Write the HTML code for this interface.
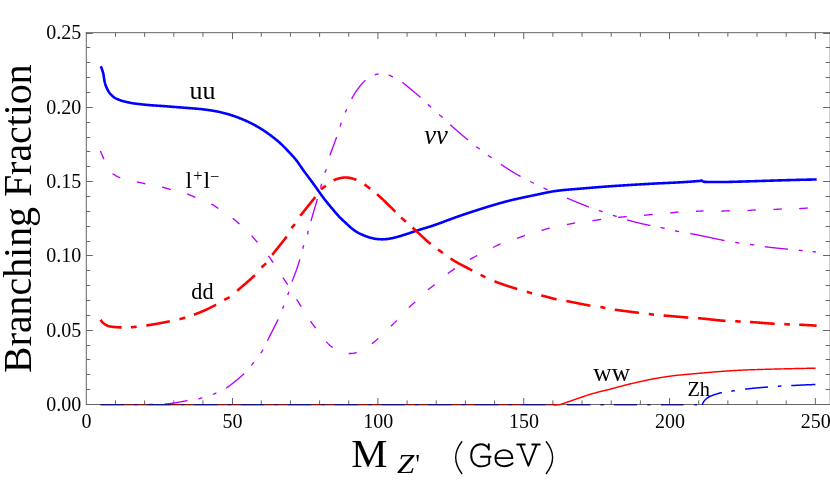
<!DOCTYPE html>
<html><head><meta charset="utf-8"><title>Branching Fraction</title>
<style>
html,body{margin:0;padding:0;background:#fff;}
body{width:830px;height:498px;overflow:hidden;font-family:"Liberation Serif",serif;}
svg{display:block;will-change:transform;}
.ser{font-family:"Liberation Serif",serif;}
.mono{font-family:"Liberation Mono",monospace;}
</style></head><body>
<svg width="830" height="498" viewBox="0 0 830 498">
<rect width="830" height="498" fill="#fff"/>
<path d="M86.3,405.0 L86.3,32.17 M85.8,32.67 L830,32.67 M830.2,32.67 L830.2,404.5 M85.8,404.5 L830,404.5" fill="none" stroke="#666666" stroke-width="1"/>
<path d="M115.46,404.5 v-4.1 M115.46,32.67 v4.1 M144.62,404.5 v-4.1 M144.62,32.67 v4.1 M173.79,404.5 v-4.1 M173.79,32.67 v4.1 M202.95,404.5 v-4.1 M202.95,32.67 v4.1 M232.50,404.5 v-6.5 M232.50,32.67 v6.5 M261.27,404.5 v-4.1 M261.27,32.67 v4.1 M290.43,404.5 v-4.1 M290.43,32.67 v4.1 M319.60,404.5 v-4.1 M319.60,32.67 v4.1 M348.76,404.5 v-4.1 M348.76,32.67 v4.1 M377.92,404.5 v-6.5 M377.92,32.67 v6.5 M407.08,404.5 v-4.1 M407.08,32.67 v4.1 M436.24,404.5 v-4.1 M436.24,32.67 v4.1 M465.41,404.5 v-4.1 M465.41,32.67 v4.1 M494.57,404.5 v-4.1 M494.57,32.67 v4.1 M523.73,404.5 v-6.5 M523.73,32.67 v6.5 M552.89,404.5 v-4.1 M552.89,32.67 v4.1 M582.05,404.5 v-4.1 M582.05,32.67 v4.1 M611.22,404.5 v-4.1 M611.22,32.67 v4.1 M640.38,404.5 v-4.1 M640.38,32.67 v4.1 M669.54,404.5 v-6.5 M669.54,32.67 v6.5 M698.70,404.5 v-4.1 M698.70,32.67 v4.1 M727.86,404.5 v-4.1 M727.86,32.67 v4.1 M757.03,404.5 v-4.1 M757.03,32.67 v4.1 M786.19,404.5 v-4.1 M786.19,32.67 v4.1 M815.35,404.5 v-6.5 M815.35,32.67 v6.5 M86.3,404.50 h6.5 M830,404.50 h-6.9 M86.3,389.50 h3.9 M830,389.50 h-4.3 M86.3,374.50 h3.9 M830,374.50 h-4.3 M86.3,359.50 h3.9 M830,359.50 h-4.3 M86.3,345.50 h3.9 M830,345.50 h-4.3 M86.3,330.50 h6.5 M830,330.50 h-6.9 M86.3,315.50 h3.9 M830,315.50 h-4.3 M86.3,300.50 h3.9 M830,300.50 h-4.3 M86.3,285.50 h3.9 M830,285.50 h-4.3 M86.3,270.50 h3.9 M830,270.50 h-4.3 M86.3,255.50 h6.5 M830,255.50 h-6.9 M86.3,241.50 h3.9 M830,241.50 h-4.3 M86.3,226.50 h3.9 M830,226.50 h-4.3 M86.3,211.50 h3.9 M830,211.50 h-4.3 M86.3,196.50 h3.9 M830,196.50 h-4.3 M86.3,181.50 h6.5 M830,181.50 h-6.9 M86.3,166.50 h3.9 M830,166.50 h-4.3 M86.3,151.50 h3.9 M830,151.50 h-4.3 M86.3,137.50 h3.9 M830,137.50 h-4.3 M86.3,122.50 h3.9 M830,122.50 h-4.3 M86.3,107.50 h6.5 M830,107.50 h-6.9 M86.3,92.50 h3.9 M830,92.50 h-4.3 M86.3,77.50 h3.9 M830,77.50 h-4.3 M86.3,62.50 h3.9 M830,62.50 h-4.3 M86.3,47.50 h3.9 M830,47.50 h-4.3 M86.3,33.50 h6.5 M830,33.50 h-6.9" fill="none" stroke="#666666" stroke-width="1"/>
<g fill="none" stroke-linejoin="round">
<path d="M100.80,66.20 L101.30,67.51 L101.80,68.89 L102.30,70.28 L102.80,71.76 L103.30,73.40 L103.80,76.63 L104.30,80.10 L104.80,82.22 L105.30,84.12 L105.80,85.78 L106.30,87.14 L106.80,88.20 L107.30,89.18 L107.80,90.13 L108.30,91.04 L108.80,91.87 L109.30,92.62 L109.80,93.27 L110.30,93.80 L110.80,94.31 L111.30,94.82 L111.80,95.32 L112.30,95.80 L112.80,96.27 L113.30,96.71 L113.80,97.12 L114.30,97.50 L114.80,97.85 L115.30,98.15 L115.80,98.40 L116.30,98.63 L116.80,98.85 L117.30,99.07 L117.80,99.29 L118.30,99.50 L118.80,99.71 L119.30,99.91 L119.80,100.11 L120.30,100.30 L120.80,100.48 L121.30,100.65 L121.80,100.81 L122.30,100.96 L122.80,101.10 L123.30,101.23 L123.80,101.35 L124.30,101.46 L124.80,101.58 L125.30,101.69 L125.80,101.81 L126.30,101.93 L126.80,102.04 L127.30,102.15 L127.80,102.27 L128.30,102.38 L128.80,102.49 L129.30,102.60 L129.80,102.70 L130.30,102.81 L130.80,102.91 L131.30,103.00 L131.80,103.09 L132.30,103.18 L132.80,103.27 L133.30,103.35 L133.80,103.43 L134.30,103.50 L134.80,103.56 L135.30,103.62 L135.80,103.68 L136.30,103.74 L136.80,103.80 L137.30,103.86 L137.80,103.92 L138.30,103.98 L138.80,104.04 L139.30,104.10 L139.80,104.15 L140.30,104.21 L140.80,104.27 L141.30,104.32 L141.80,104.38 L142.30,104.43 L142.80,104.49 L143.30,104.54 L143.80,104.60 L144.30,104.65 L144.80,104.70 L145.30,104.75 L145.80,104.80 L146.30,104.84 L146.80,104.89 L147.30,104.94 L147.80,104.98 L148.30,105.03 L148.80,105.07 L149.30,105.11 L149.80,105.15 L150.30,105.19 L150.80,105.22 L151.30,105.26 L151.80,105.29 L152.30,105.33 L152.80,105.36 L153.30,105.40 L153.80,105.43 L154.30,105.47 L154.80,105.50 L155.30,105.54 L155.80,105.57 L156.30,105.61 L156.80,105.64 L157.30,105.68 L157.80,105.71 L158.30,105.74 L158.80,105.78 L159.30,105.81 L159.80,105.85 L160.30,105.88 L160.80,105.92 L161.30,105.95 L161.80,105.99 L162.30,106.02 L162.80,106.06 L163.30,106.10 L163.80,106.13 L164.30,106.17 L164.80,106.21 L165.30,106.25 L165.80,106.28 L166.30,106.32 L166.80,106.36 L167.30,106.40 L167.80,106.44 L168.30,106.48 L168.80,106.52 L169.30,106.56 L169.80,106.60 L170.30,106.64 L170.80,106.67 L171.30,106.71 L171.80,106.75 L172.30,106.79 L172.80,106.83 L173.30,106.87 L173.80,106.91 L174.30,106.95 L174.80,106.99 L175.30,107.02 L175.80,107.06 L176.30,107.10 L176.80,107.14 L177.30,107.18 L177.80,107.22 L178.30,107.26 L178.80,107.30 L179.30,107.34 L179.80,107.38 L180.30,107.41 L180.80,107.45 L181.30,107.49 L181.80,107.53 L182.30,107.57 L182.80,107.61 L183.30,107.65 L183.80,107.69 L184.30,107.73 L184.80,107.76 L185.30,107.80 L185.80,107.84 L186.30,107.88 L186.80,107.92 L187.30,107.96 L187.80,108.00 L188.30,108.04 L188.80,108.08 L189.30,108.12 L189.80,108.15 L190.30,108.19 L190.80,108.23 L191.30,108.27 L191.80,108.31 L192.30,108.35 L192.80,108.39 L193.30,108.43 L193.80,108.47 L194.30,108.51 L194.80,108.54 L195.30,108.58 L195.80,108.62 L196.30,108.66 L196.80,108.70 L197.30,108.74 L197.80,108.78 L198.30,108.83 L198.80,108.87 L199.30,108.92 L199.80,108.97 L200.30,109.02 L200.80,109.07 L201.30,109.13 L201.80,109.18 L202.30,109.24 L202.80,109.30 L203.30,109.36 L203.80,109.42 L204.30,109.48 L204.80,109.55 L205.30,109.61 L205.80,109.68 L206.30,109.74 L206.80,109.81 L207.30,109.88 L207.80,109.95 L208.30,110.02 L208.80,110.09 L209.30,110.17 L209.80,110.24 L210.30,110.31 L210.80,110.39 L211.30,110.46 L211.80,110.54 L212.30,110.62 L212.80,110.69 L213.30,110.77 L213.80,110.86 L214.30,110.94 L214.80,111.03 L215.30,111.12 L215.80,111.22 L216.30,111.32 L216.80,111.41 L217.30,111.52 L217.80,111.62 L218.30,111.73 L218.80,111.83 L219.30,111.94 L219.80,112.06 L220.30,112.17 L220.80,112.29 L221.30,112.41 L221.80,112.53 L222.30,112.65 L222.80,112.77 L223.30,112.90 L223.80,113.02 L224.30,113.15 L224.80,113.28 L225.30,113.41 L225.80,113.55 L226.30,113.68 L226.80,113.82 L227.30,113.96 L227.80,114.10 L228.30,114.25 L228.80,114.39 L229.30,114.54 L229.80,114.70 L230.30,114.85 L230.80,115.01 L231.30,115.17 L231.80,115.33 L232.30,115.50 L232.80,115.66 L233.30,115.83 L233.80,116.00 L234.30,116.18 L234.80,116.35 L235.30,116.53 L235.80,116.71 L236.30,116.89 L236.80,117.07 L237.30,117.26 L237.80,117.45 L238.30,117.64 L238.80,117.83 L239.30,118.02 L239.80,118.22 L240.30,118.42 L240.80,118.62 L241.30,118.82 L241.80,119.03 L242.30,119.24 L242.80,119.45 L243.30,119.66 L243.80,119.88 L244.30,120.09 L244.80,120.31 L245.30,120.53 L245.80,120.75 L246.30,120.98 L246.80,121.20 L247.30,121.43 L247.80,121.66 L248.30,121.89 L248.80,122.13 L249.30,122.37 L249.80,122.61 L250.30,122.85 L250.80,123.10 L251.30,123.35 L251.80,123.61 L252.30,123.86 L252.80,124.13 L253.30,124.39 L253.80,124.66 L254.30,124.92 L254.80,125.20 L255.30,125.47 L255.80,125.75 L256.30,126.03 L256.80,126.31 L257.30,126.60 L257.80,126.88 L258.30,127.17 L258.80,127.47 L259.30,127.76 L259.80,128.06 L260.30,128.36 L260.80,128.67 L261.30,128.98 L261.80,129.29 L262.30,129.61 L262.80,129.93 L263.30,130.25 L263.80,130.58 L264.30,130.91 L264.80,131.25 L265.30,131.59 L265.80,131.93 L266.30,132.28 L266.80,132.63 L267.30,132.98 L267.80,133.33 L268.30,133.69 L268.80,134.05 L269.30,134.42 L269.80,134.78 L270.30,135.15 L270.80,135.53 L271.30,135.90 L271.80,136.28 L272.30,136.66 L272.80,137.04 L273.30,137.42 L273.80,137.81 L274.30,138.20 L274.80,138.60 L275.30,138.99 L275.80,139.40 L276.30,139.80 L276.80,140.22 L277.30,140.63 L277.80,141.05 L278.30,141.48 L278.80,141.91 L279.30,142.35 L279.80,142.80 L280.30,143.25 L280.80,143.70 L281.30,144.17 L281.80,144.64 L282.30,145.11 L282.80,145.60 L283.30,146.09 L283.80,146.59 L284.30,147.10 L284.80,147.62 L285.30,148.14 L285.80,148.66 L286.30,149.19 L286.80,149.72 L287.30,150.25 L287.80,150.79 L288.30,151.32 L288.80,151.85 L289.30,152.38 L289.80,152.91 L290.30,153.43 L290.80,153.96 L291.30,154.50 L291.80,155.03 L292.30,155.58 L292.80,156.12 L293.30,156.68 L293.80,157.25 L294.30,157.82 L294.80,158.41 L295.30,159.01 L295.80,159.62 L296.30,160.25 L296.80,160.90 L297.30,161.57 L297.80,162.26 L298.30,162.96 L298.80,163.67 L299.30,164.40 L299.80,165.13 L300.30,165.86 L300.80,166.59 L301.30,167.33 L301.80,168.06 L302.30,168.78 L302.80,169.50 L303.30,170.20 L303.80,170.89 L304.30,171.57 L304.80,172.24 L305.30,172.91 L305.80,173.58 L306.30,174.24 L306.80,174.91 L307.30,175.57 L307.80,176.24 L308.30,176.91 L308.80,177.58 L309.30,178.25 L309.80,178.92 L310.30,179.60 L310.80,180.28 L311.30,180.96 L311.80,181.64 L312.30,182.32 L312.80,183.01 L313.30,183.69 L313.80,184.38 L314.30,185.06 L314.80,185.75 L315.30,186.44 L315.80,187.12 L316.30,187.81 L316.80,188.51 L317.30,189.22 L317.80,189.93 L318.30,190.65 L318.80,191.37 L319.30,192.09 L319.80,192.81 L320.30,193.52 L320.80,194.23 L321.30,194.93 L321.80,195.63 L322.30,196.31 L322.80,196.98 L323.30,197.64 L323.80,198.30 L324.30,198.94 L324.80,199.58 L325.30,200.22 L325.80,200.85 L326.30,201.47 L326.80,202.10 L327.30,202.71 L327.80,203.33 L328.30,203.95 L328.80,204.56 L329.30,205.17 L329.80,205.78 L330.30,206.38 L330.80,206.98 L331.30,207.58 L331.80,208.18 L332.30,208.77 L332.80,209.37 L333.30,209.96 L333.80,210.55 L334.30,211.13 L334.80,211.72 L335.30,212.31 L335.80,212.89 L336.30,213.47 L336.80,214.05 L337.30,214.61 L337.80,215.17 L338.30,215.72 L338.80,216.26 L339.30,216.79 L339.80,217.30 L340.30,217.80 L340.80,218.29 L341.30,218.77 L341.80,219.26 L342.30,219.73 L342.80,220.21 L343.30,220.68 L343.80,221.15 L344.30,221.62 L344.80,222.09 L345.30,222.55 L345.80,223.02 L346.30,223.49 L346.80,223.95 L347.30,224.42 L347.80,224.88 L348.30,225.34 L348.80,225.80 L349.30,226.26 L349.80,226.72 L350.30,227.17 L350.80,227.61 L351.30,228.04 L351.80,228.45 L352.30,228.85 L352.80,229.24 L353.30,229.62 L353.80,229.99 L354.30,230.35 L354.80,230.70 L355.30,231.04 L355.80,231.36 L356.30,231.68 L356.80,231.98 L357.30,232.28 L357.80,232.56 L358.30,232.83 L358.80,233.10 L359.30,233.35 L359.80,233.60 L360.30,233.84 L360.80,234.08 L361.30,234.31 L361.80,234.54 L362.30,234.77 L362.80,234.99 L363.30,235.21 L363.80,235.42 L364.30,235.62 L364.80,235.82 L365.30,236.01 L365.80,236.20 L366.30,236.39 L366.80,236.57 L367.30,236.74 L367.80,236.91 L368.30,237.08 L368.80,237.24 L369.30,237.40 L369.80,237.55 L370.30,237.70 L370.80,237.84 L371.30,237.97 L371.80,238.10 L372.30,238.22 L372.80,238.33 L373.30,238.44 L373.80,238.54 L374.30,238.64 L374.80,238.72 L375.30,238.80 L375.80,238.88 L376.30,238.94 L376.80,239.00 L377.30,239.06 L377.80,239.11 L378.30,239.15 L378.80,239.19 L379.30,239.23 L379.80,239.26 L380.30,239.28 L380.80,239.31 L381.30,239.32 L381.80,239.33 L382.30,239.33 L382.80,239.33 L383.30,239.32 L383.80,239.30 L384.30,239.27 L384.80,239.24 L385.30,239.20 L385.80,239.15 L386.30,239.10 L386.80,239.05 L387.30,238.99 L387.80,238.92 L388.30,238.85 L388.80,238.77 L389.30,238.69 L389.80,238.60 L390.30,238.52 L390.80,238.43 L391.30,238.33 L391.80,238.24 L392.30,238.14 L392.80,238.03 L393.30,237.92 L393.80,237.81 L394.30,237.70 L394.80,237.59 L395.30,237.47 L395.80,237.35 L396.30,237.23 L396.80,237.10 L397.30,236.97 L397.80,236.82 L398.30,236.67 L398.80,236.51 L399.30,236.36 L399.80,236.20 L400.30,236.04 L400.80,235.89 L401.30,235.73 L401.80,235.57 L402.30,235.42 L402.80,235.26 L403.30,235.11 L403.80,234.95 L404.30,234.79 L404.80,234.64 L405.30,234.48 L405.80,234.32 L406.30,234.17 L406.80,234.01 L407.30,233.86 L407.80,233.70 L408.30,233.54 L408.80,233.37 L409.30,233.20 L409.80,233.03 L410.30,232.85 L410.80,232.67 L411.30,232.49 L411.80,232.31 L412.30,232.14 L412.80,231.97 L413.30,231.80 L413.80,231.63 L414.30,231.46 L414.80,231.29 L415.30,231.12 L415.80,230.96 L416.30,230.79 L416.80,230.63 L417.30,230.46 L417.80,230.30 L418.30,230.14 L418.80,229.99 L419.30,229.83 L419.80,229.67 L420.30,229.52 L420.80,229.36 L421.30,229.21 L421.80,229.05 L422.30,228.90 L422.80,228.75 L423.30,228.60 L423.80,228.45 L424.30,228.30 L424.80,228.15 L425.30,228.00 L425.80,227.86 L426.30,227.71 L426.80,227.56 L427.30,227.42 L427.80,227.27 L428.30,227.12 L428.80,226.97 L429.30,226.82 L429.80,226.66 L430.30,226.51 L430.80,226.35 L431.30,226.19 L431.80,226.02 L432.30,225.86 L432.80,225.69 L433.30,225.52 L433.80,225.35 L434.30,225.18 L434.80,225.01 L435.30,224.84 L435.80,224.66 L436.30,224.48 L436.80,224.31 L437.30,224.13 L437.80,223.95 L438.30,223.77 L438.80,223.58 L439.30,223.40 L439.80,223.22 L440.30,223.03 L440.80,222.85 L441.30,222.66 L441.80,222.47 L442.30,222.28 L442.80,222.10 L443.30,221.91 L443.80,221.72 L444.30,221.53 L444.80,221.34 L445.30,221.15 L445.80,220.97 L446.30,220.78 L446.80,220.59 L447.30,220.40 L447.80,220.22 L448.30,220.03 L448.80,219.84 L449.30,219.66 L449.80,219.47 L450.30,219.29 L450.80,219.11 L451.30,218.92 L451.80,218.74 L452.30,218.56 L452.80,218.38 L453.30,218.20 L453.80,218.01 L454.30,217.83 L454.80,217.65 L455.30,217.47 L455.80,217.29 L456.30,217.12 L456.80,216.94 L457.30,216.76 L457.80,216.58 L458.30,216.41 L458.80,216.23 L459.30,216.05 L459.80,215.88 L460.30,215.71 L460.80,215.53 L461.30,215.36 L461.80,215.19 L462.30,215.02 L462.80,214.85 L463.30,214.68 L463.80,214.51 L464.30,214.34 L464.80,214.17 L465.30,214.00 L465.80,213.83 L466.30,213.66 L466.80,213.50 L467.30,213.33 L467.80,213.16 L468.30,213.00 L468.80,212.83 L469.30,212.67 L469.80,212.50 L470.30,212.34 L470.80,212.17 L471.30,212.01 L471.80,211.85 L472.30,211.68 L472.80,211.52 L473.30,211.36 L473.80,211.20 L474.30,211.03 L474.80,210.87 L475.30,210.71 L475.80,210.55 L476.30,210.39 L476.80,210.22 L477.30,210.06 L477.80,209.90 L478.30,209.74 L478.80,209.58 L479.30,209.42 L479.80,209.26 L480.30,209.10 L480.80,208.94 L481.30,208.78 L481.80,208.62 L482.30,208.46 L482.80,208.31 L483.30,208.15 L483.80,207.99 L484.30,207.84 L484.80,207.68 L485.30,207.53 L485.80,207.37 L486.30,207.22 L486.80,207.07 L487.30,206.91 L487.80,206.76 L488.30,206.61 L488.80,206.45 L489.30,206.30 L489.80,206.15 L490.30,206.00 L490.80,205.85 L491.30,205.70 L491.80,205.55 L492.30,205.40 L492.80,205.26 L493.30,205.11 L493.80,204.96 L494.30,204.81 L494.80,204.67 L495.30,204.52 L495.80,204.38 L496.30,204.23 L496.80,204.09 L497.30,203.94 L497.80,203.80 L498.30,203.66 L498.80,203.51 L499.30,203.37 L499.80,203.23 L500.30,203.09 L500.80,202.95 L501.30,202.81 L501.80,202.67 L502.30,202.54 L502.80,202.40 L503.30,202.26 L503.80,202.13 L504.30,202.00 L504.80,201.86 L505.30,201.73 L505.80,201.60 L506.30,201.47 L506.80,201.34 L507.30,201.21 L507.80,201.08 L508.30,200.95 L508.80,200.82 L509.30,200.70 L509.80,200.57 L510.30,200.45 L510.80,200.32 L511.30,200.20 L511.80,200.08 L512.30,199.96 L512.80,199.84 L513.30,199.72 L513.80,199.60 L514.30,199.48 L514.80,199.37 L515.30,199.25 L515.80,199.14 L516.30,199.02 L516.80,198.91 L517.30,198.80 L517.80,198.69 L518.30,198.58 L518.80,198.46 L519.30,198.35 L519.80,198.24 L520.30,198.14 L520.80,198.03 L521.30,197.92 L521.80,197.81 L522.30,197.70 L522.80,197.59 L523.30,197.49 L523.80,197.38 L524.30,197.27 L524.80,197.17 L525.30,197.06 L525.80,196.96 L526.30,196.85 L526.80,196.75 L527.30,196.64 L527.80,196.54 L528.30,196.43 L528.80,196.33 L529.30,196.22 L529.80,196.12 L530.30,196.02 L530.80,195.91 L531.30,195.81 L531.80,195.71 L532.30,195.60 L532.80,195.50 L533.30,195.40 L533.80,195.29 L534.30,195.19 L534.80,195.09 L535.30,194.98 L535.80,194.88 L536.30,194.78 L536.80,194.67 L537.30,194.57 L537.80,194.46 L538.30,194.35 L538.80,194.25 L539.30,194.14 L539.80,194.03 L540.30,193.92 L540.80,193.81 L541.30,193.71 L541.80,193.60 L542.30,193.49 L542.80,193.38 L543.30,193.28 L543.80,193.17 L544.30,193.06 L544.80,192.96 L545.30,192.85 L545.80,192.75 L546.30,192.64 L546.80,192.54 L547.30,192.44 L547.80,192.34 L548.30,192.24 L548.80,192.14 L549.30,192.05 L549.80,191.95 L550.30,191.86 L550.80,191.77 L551.30,191.68 L551.80,191.59 L552.30,191.51 L552.80,191.42 L553.30,191.34 L553.80,191.26 L554.30,191.18 L554.80,191.11 L555.30,191.04 L555.80,190.97 L556.30,190.90 L556.80,190.84 L557.30,190.77 L557.80,190.71 L558.30,190.65 L558.80,190.59 L559.30,190.53 L559.80,190.47 L560.30,190.42 L560.80,190.36 L561.30,190.31 L561.80,190.26 L562.30,190.20 L562.80,190.15 L563.30,190.10 L563.80,190.05 L564.30,190.01 L564.80,189.96 L565.30,189.91 L565.80,189.87 L566.30,189.82 L566.80,189.78 L567.30,189.73 L567.80,189.69 L568.30,189.65 L568.80,189.60 L569.30,189.56 L569.80,189.52 L570.30,189.48 L570.80,189.44 L571.30,189.40 L571.80,189.35 L572.30,189.31 L572.80,189.27 L573.30,189.23 L573.80,189.19 L574.30,189.15 L574.80,189.11 L575.30,189.07 L575.80,189.03 L576.30,188.99 L576.80,188.95 L577.30,188.91 L577.80,188.87 L578.30,188.83 L578.80,188.78 L579.30,188.74 L579.80,188.70 L580.30,188.66 L580.80,188.61 L581.30,188.57 L581.80,188.53 L582.30,188.49 L582.80,188.44 L583.30,188.40 L583.80,188.36 L584.30,188.32 L584.80,188.27 L585.30,188.23 L585.80,188.19 L586.30,188.15 L586.80,188.10 L587.30,188.06 L587.80,188.02 L588.30,187.98 L588.80,187.93 L589.30,187.89 L589.80,187.85 L590.30,187.81 L590.80,187.77 L591.30,187.72 L591.80,187.68 L592.30,187.64 L592.80,187.60 L593.30,187.56 L593.80,187.52 L594.30,187.48 L594.80,187.44 L595.30,187.40 L595.80,187.36 L596.30,187.32 L596.80,187.28 L597.30,187.24 L597.80,187.20 L598.30,187.16 L598.80,187.12 L599.30,187.08 L599.80,187.05 L600.30,187.01 L600.80,186.97 L601.30,186.93 L601.80,186.89 L602.30,186.85 L602.80,186.82 L603.30,186.78 L603.80,186.74 L604.30,186.70 L604.80,186.67 L605.30,186.63 L605.80,186.59 L606.30,186.55 L606.80,186.52 L607.30,186.48 L607.80,186.44 L608.30,186.41 L608.80,186.37 L609.30,186.34 L609.80,186.30 L610.30,186.27 L610.80,186.23 L611.30,186.19 L611.80,186.16 L612.30,186.12 L612.80,186.09 L613.30,186.06 L613.80,186.02 L614.30,185.99 L614.80,185.95 L615.30,185.92 L615.80,185.89 L616.30,185.85 L616.80,185.82 L617.30,185.79 L617.80,185.75 L618.30,185.72 L618.80,185.69 L619.30,185.66 L619.80,185.62 L620.30,185.59 L620.80,185.56 L621.30,185.53 L621.80,185.50 L622.30,185.46 L622.80,185.43 L623.30,185.40 L623.80,185.37 L624.30,185.34 L624.80,185.31 L625.30,185.28 L625.80,185.24 L626.30,185.21 L626.80,185.18 L627.30,185.15 L627.80,185.12 L628.30,185.09 L628.80,185.06 L629.30,185.03 L629.80,185.00 L630.30,184.97 L630.80,184.94 L631.30,184.91 L631.80,184.88 L632.30,184.85 L632.80,184.82 L633.30,184.79 L633.80,184.76 L634.30,184.73 L634.80,184.70 L635.30,184.67 L635.80,184.64 L636.30,184.61 L636.80,184.58 L637.30,184.55 L637.80,184.52 L638.30,184.49 L638.80,184.46 L639.30,184.43 L639.80,184.40 L640.30,184.37 L640.80,184.34 L641.30,184.31 L641.80,184.28 L642.30,184.25 L642.80,184.22 L643.30,184.19 L643.80,184.17 L644.30,184.14 L644.80,184.11 L645.30,184.08 L645.80,184.05 L646.30,184.02 L646.80,183.99 L647.30,183.97 L647.80,183.94 L648.30,183.91 L648.80,183.88 L649.30,183.85 L649.80,183.82 L650.30,183.80 L650.80,183.77 L651.30,183.74 L651.80,183.71 L652.30,183.69 L652.80,183.66 L653.30,183.63 L653.80,183.60 L654.30,183.58 L654.80,183.55 L655.30,183.52 L655.80,183.49 L656.30,183.47 L656.80,183.44 L657.30,183.42 L657.80,183.39 L658.30,183.37 L658.80,183.34 L659.30,183.32 L659.80,183.29 L660.30,183.27 L660.80,183.24 L661.30,183.22 L661.80,183.20 L662.30,183.18 L662.80,183.15 L663.30,183.13 L663.80,183.11 L664.30,183.09 L664.80,183.06 L665.30,183.04 L665.80,183.02 L666.30,183.00 L666.80,182.98 L667.30,182.95 L667.80,182.93 L668.30,182.91 L668.80,182.89 L669.30,182.86 L669.80,182.84 L670.30,182.82 L670.80,182.80 L671.30,182.77 L671.80,182.75 L672.30,182.73 L672.80,182.70 L673.30,182.68 L673.80,182.65 L674.30,182.63 L674.80,182.61 L675.30,182.58 L675.80,182.55 L676.30,182.53 L676.80,182.50 L677.30,182.48 L677.80,182.45 L678.30,182.42 L678.80,182.39 L679.30,182.37 L679.80,182.34 L680.30,182.31 L680.80,182.28 L681.30,182.25 L681.80,182.22 L682.30,182.19 L682.80,182.16 L683.30,182.13 L683.80,182.10 L684.30,182.07 L684.80,182.04 L685.30,182.01 L685.80,181.98 L686.30,181.94 L686.80,181.91 L687.30,181.88 L687.80,181.85 L688.30,181.81 L688.80,181.78 L689.30,181.75 L689.80,181.71 L690.30,181.68 L690.80,181.64 L691.30,181.61 L691.80,181.57 L692.30,181.53 L692.80,181.50 L693.30,181.46 L693.80,181.42 L694.30,181.38 L694.80,181.34 L695.30,181.29 L695.80,181.25 L696.30,181.21 L696.80,181.16 L697.30,181.12 L697.80,181.08 L698.30,181.03 L698.80,180.98 L699.30,180.94 L699.80,180.89 L700.30,180.84 L700.80,180.80 L701.30,180.75 L701.80,180.70" stroke="#0000ff" stroke-width="2.6" stroke-linecap="butt"/>
<path d="M701.80,180.70 L702.30,181.10 L702.80,181.41 L703.30,181.61 L703.80,181.77 L704.30,181.87 L704.80,181.90 L705.30,181.91 L705.80,181.92 L706.30,181.92 L706.80,181.93 L707.30,181.94 L707.80,181.95 L708.30,181.95 L708.80,181.96 L709.30,181.97 L709.80,181.97 L710.30,181.98 L710.80,181.98 L711.30,181.99 L711.80,181.99 L712.30,182.00 L712.80,182.00 L713.30,182.00 L713.80,182.00 L714.30,182.01 L714.80,182.01 L715.30,182.01 L715.80,182.01 L716.30,182.01 L716.80,182.01 L717.30,182.01 L717.80,182.00 L718.30,182.00 L718.80,182.00 L719.30,181.99 L719.80,181.99 L720.30,181.99 L720.80,181.99 L721.30,181.99 L721.80,181.99 L722.30,181.98 L722.80,181.98 L723.30,181.98 L723.80,181.98 L724.30,181.98 L724.80,181.98 L725.30,181.97 L725.80,181.97 L726.30,181.96 L726.80,181.96 L727.30,181.95 L727.80,181.95 L728.30,181.94 L728.80,181.93 L729.30,181.92 L729.80,181.91 L730.30,181.89 L730.80,181.88 L731.30,181.86 L731.80,181.85 L732.30,181.84 L732.80,181.82 L733.30,181.81 L733.80,181.79 L734.30,181.78 L734.80,181.77 L735.30,181.75 L735.80,181.74 L736.30,181.72 L736.80,181.71 L737.30,181.69 L737.80,181.68 L738.30,181.66 L738.80,181.65 L739.30,181.64 L739.80,181.62 L740.30,181.61 L740.80,181.59 L741.30,181.58 L741.80,181.56 L742.30,181.55 L742.80,181.53 L743.30,181.52 L743.80,181.50 L744.30,181.49 L744.80,181.47 L745.30,181.45 L745.80,181.44 L746.30,181.42 L746.80,181.41 L747.30,181.39 L747.80,181.38 L748.30,181.36 L748.80,181.35 L749.30,181.33 L749.80,181.32 L750.30,181.30 L750.80,181.29 L751.30,181.27 L751.80,181.25 L752.30,181.24 L752.80,181.22 L753.30,181.21 L753.80,181.19 L754.30,181.18 L754.80,181.16 L755.30,181.15 L755.80,181.13 L756.30,181.11 L756.80,181.10 L757.30,181.08 L757.80,181.07 L758.30,181.05 L758.80,181.04 L759.30,181.02 L759.80,181.00 L760.30,180.99 L760.80,180.97 L761.30,180.96 L761.80,180.94 L762.30,180.92 L762.80,180.91 L763.30,180.89 L763.80,180.88 L764.30,180.86 L764.80,180.85 L765.30,180.83 L765.80,180.81 L766.30,180.80 L766.80,180.78 L767.30,180.77 L767.80,180.75 L768.30,180.74 L768.80,180.72 L769.30,180.70 L769.80,180.69 L770.30,180.67 L770.80,180.66 L771.30,180.64 L771.80,180.63 L772.30,180.61 L772.80,180.59 L773.30,180.58 L773.80,180.56 L774.30,180.55 L774.80,180.53 L775.30,180.52 L775.80,180.50 L776.30,180.49 L776.80,180.47 L777.30,180.45 L777.80,180.44 L778.30,180.42 L778.80,180.41 L779.30,180.39 L779.80,180.38 L780.30,180.36 L780.80,180.35 L781.30,180.33 L781.80,180.32 L782.30,180.30 L782.80,180.29 L783.30,180.27 L783.80,180.26 L784.30,180.24 L784.80,180.23 L785.30,180.21 L785.80,180.20 L786.30,180.18 L786.80,180.17 L787.30,180.15 L787.80,180.14 L788.30,180.12 L788.80,180.11 L789.30,180.10 L789.80,180.08 L790.30,180.07 L790.80,180.06 L791.30,180.04 L791.80,180.03 L792.30,180.02 L792.80,180.00 L793.30,179.99 L793.80,179.98 L794.30,179.96 L794.80,179.95 L795.30,179.94 L795.80,179.93 L796.30,179.91 L796.80,179.90 L797.30,179.89 L797.80,179.88 L798.30,179.87 L798.80,179.85 L799.30,179.84 L799.80,179.83 L800.30,179.82 L800.80,179.81 L801.30,179.80 L801.80,179.79 L802.30,179.77 L802.80,179.76 L803.30,179.75 L803.80,179.74 L804.30,179.73 L804.80,179.72 L805.30,179.71 L805.80,179.70 L806.30,179.69 L806.80,179.68 L807.30,179.67 L807.80,179.65 L808.30,179.64 L808.80,179.63 L809.30,179.62 L809.80,179.61 L810.30,179.60 L810.80,179.59 L811.30,179.58 L811.80,179.57 L812.30,179.56 L812.80,179.55 L813.30,179.54 L813.80,179.53 L814.30,179.52 L814.80,179.51 L815.30,179.50 L815.40,179.50" stroke="#0000ff" stroke-width="2.6" stroke-linecap="square"/>
<path d="M100.60,319.70 L101.10,320.52 L101.60,321.25 L102.10,321.89 L102.60,322.43 L103.10,322.92 L103.60,323.35 L104.10,323.74 L104.60,324.06 L105.10,324.36 L105.60,324.66 L106.10,324.95 L106.60,325.22 L107.10,325.48 L107.60,325.72 L108.10,325.93 L108.60,326.12 L109.10,326.28 L109.60,326.41 L110.10,326.50 L110.60,326.57 L111.10,326.64 L111.60,326.70 L112.10,326.76 L112.60,326.82 L113.10,326.88 L113.60,326.93 L114.10,326.99 L114.60,327.04 L115.10,327.08 L115.60,327.12 L116.10,327.16 L116.60,327.20 L117.10,327.23 L117.60,327.27 L118.10,327.29 L118.60,327.32 L119.10,327.34 L119.60,327.36 L120.10,327.37 L120.60,327.39 L121.10,327.39 L121.60,327.40 M130.90,327.30 L131.40,327.26 L131.90,327.21 L132.40,327.16 L132.90,327.11 L133.40,327.06 L133.90,327.01 L134.40,326.96 L134.90,326.90 L135.40,326.85 L135.90,326.79 L136.40,326.73 L136.70,326.70 M146.30,325.50 L146.80,325.43 L147.30,325.35 L147.80,325.28 L148.30,325.20 L148.80,325.13 L149.30,325.05 L149.80,324.97 L150.30,324.89 L150.80,324.81 L151.30,324.73 L151.80,324.64 L152.30,324.56 L152.80,324.48 L153.30,324.39 L153.80,324.31 L154.30,324.22 L154.80,324.13 L155.30,324.05 L155.80,323.96 L156.30,323.87 L156.80,323.78 L157.30,323.69 L157.80,323.60 L158.30,323.51 L158.80,323.41 L159.30,323.32 L159.80,323.23 L160.30,323.13 L160.80,323.04 L161.30,322.95 L161.80,322.85 L162.30,322.76 L162.80,322.66 L163.30,322.56 L163.80,322.47 L164.30,322.37 L164.80,322.28 L165.30,322.18 L165.80,322.08 L166.30,321.98 L166.80,321.89 L167.30,321.79 L167.80,321.69 L168.30,321.59 L168.80,321.50 L169.30,321.40 L169.80,321.30 M179.50,319.20 L180.00,319.08 L180.50,318.95 L181.00,318.81 L181.50,318.68 L182.00,318.54 L182.50,318.40 L183.00,318.25 L183.50,318.11 L184.00,317.96 L184.50,317.81 L185.00,317.66 L185.20,317.60 M193.90,314.70 L194.40,314.52 L194.90,314.33 L195.40,314.14 L195.90,313.96 L196.40,313.77 L196.90,313.57 L197.40,313.38 L197.90,313.18 L198.40,312.99 L198.90,312.79 L199.40,312.59 L199.90,312.38 L200.40,312.18 L200.90,311.97 L201.40,311.76 L201.90,311.55 L202.40,311.34 L202.90,311.13 L203.40,310.91 L203.90,310.69 L204.40,310.47 L204.90,310.25 L205.40,310.02 L205.90,309.80 L206.40,309.57 L206.90,309.34 L207.40,309.11 L207.90,308.87 L208.40,308.63 L208.90,308.40 L209.40,308.15 L209.90,307.91 L210.40,307.66 L210.90,307.42 L211.40,307.17 L211.90,306.91 L212.40,306.66 L212.90,306.40 L213.40,306.14 L213.90,305.88 L214.40,305.62 L214.90,305.35 L215.40,305.08 L215.90,304.81 L216.10,304.70 M224.20,299.90 L224.70,299.62 L225.20,299.36 L225.70,299.11 L226.20,298.87 L226.70,298.63 L227.20,298.38 L227.70,298.13 L228.20,297.86 L228.70,297.58 L229.20,297.27 L229.60,297.00 M237.20,290.70 L237.70,290.27 L238.20,289.85 L238.70,289.42 L239.20,289.00 L239.70,288.57 L240.20,288.15 L240.70,287.72 L241.20,287.30 L241.70,286.87 L242.20,286.45 L242.70,286.02 L243.20,285.59 L243.70,285.17 L244.20,284.74 L244.70,284.31 L245.20,283.88 L245.70,283.45 L246.20,283.01 L246.70,282.58 L247.20,282.15 L247.70,281.71 L248.20,281.27 L248.70,280.83 L249.20,280.39 L249.70,279.95 L250.20,279.50 L250.70,279.05 L251.20,278.61 L251.70,278.15 L252.20,277.70 L252.70,277.24 L253.20,276.78 L253.70,276.32 L254.20,275.86 L254.70,275.39 L254.90,275.20 M261.60,267.50 L262.10,266.98 L262.60,266.49 L263.10,266.03 L263.60,265.57 L264.10,265.11 L264.60,264.62 L265.10,264.11 L265.60,263.56 L265.90,263.20 M272.20,254.90 L272.70,254.25 L273.20,253.61 L273.70,252.97 L274.20,252.34 L274.70,251.70 L275.20,251.07 L275.70,250.44 L276.20,249.82 L276.70,249.19 L277.20,248.57 L277.70,247.95 L278.20,247.32 L278.70,246.70 L279.20,246.08 L279.70,245.46 L280.20,244.84 L280.70,244.22 L281.20,243.59 L281.70,242.97 L282.20,242.34 L282.70,241.72 L283.20,241.09 L283.70,240.46 L284.20,239.82 L284.70,239.18 L285.20,238.54 L285.70,237.90 L286.20,237.25 L286.70,236.60 M291.50,228.10 L292.00,227.43 L292.50,226.83 L293.00,226.27 L293.50,225.71 L294.00,225.13 L294.50,224.51 L294.80,224.10 M300.30,215.80 L300.80,215.16 L301.30,214.52 L301.80,213.89 L302.30,213.26 L302.80,212.63 L303.30,212.00 L303.80,211.37 L304.30,210.74 L304.80,210.11 L305.30,209.49 L305.80,208.87 L306.30,208.24 L306.80,207.62 L307.30,207.00 L307.80,206.38 L308.30,205.75 L308.80,205.13 L309.30,204.51 L309.80,203.89 L310.30,203.27 L310.80,202.64 L311.30,202.02 L311.80,201.39 L312.30,200.77 L312.80,200.14 L313.30,199.51 L313.80,198.88 L314.30,198.25 L314.80,197.62 L315.30,196.97 M321.10,189.50 L321.60,188.95 L322.10,188.46 L322.60,188.03 L323.10,187.63 L323.60,187.27 L324.10,186.92 L324.60,186.59 L325.10,186.26 L325.60,185.91 L325.90,185.70 M333.60,180.40 L334.10,180.12 L334.60,179.87 L335.10,179.65 L335.60,179.45 L336.10,179.26 L336.60,179.10 L337.10,178.94 L337.60,178.80 L338.10,178.67 L338.60,178.55 L339.10,178.42 L339.60,178.31 L340.10,178.19 L340.60,178.08 L341.10,177.98 L341.60,177.89 L342.10,177.80 L342.60,177.73 L343.10,177.66 L343.60,177.60 L344.10,177.56 L344.60,177.53 L345.10,177.51 L345.60,177.50 L346.10,177.51 L346.60,177.52 L347.10,177.55 L347.60,177.59 L348.10,177.64 L348.60,177.70 L349.10,177.77 L349.60,177.86 L350.10,177.95 L350.60,178.06 L351.10,178.17 L351.60,178.30 L352.10,178.44 L352.60,178.58 L353.10,178.73 L353.60,178.88 L354.10,179.05 L354.60,179.22 L355.10,179.40 L355.60,179.59 L356.10,179.79 L356.40,179.92 M364.50,184.40 L365.00,184.78 L365.50,185.16 L366.00,185.54 L366.50,185.92 L367.00,186.31 L367.50,186.69 L368.00,187.08 L368.50,187.47 L369.00,187.86 L369.50,188.25 L370.00,188.64 L370.20,188.80 M377.00,194.20 L377.50,194.63 L378.00,195.06 L378.50,195.50 L379.00,195.94 L379.50,196.38 L380.00,196.83 L380.50,197.29 L381.00,197.75 L381.50,198.21 L382.00,198.67 L382.50,199.14 L383.00,199.61 L383.50,200.09 L384.00,200.57 L384.50,201.05 L385.00,201.53 L385.50,202.01 L386.00,202.50 L386.50,202.99 L387.00,203.48 L387.50,203.97 L388.00,204.47 L388.50,204.96 L389.00,205.46 L389.50,205.95 L390.00,206.45 L390.50,206.95 L391.00,207.44 L391.50,207.94 L392.00,208.44 L392.50,208.93 L393.00,209.43 L393.50,209.93 L394.00,210.42 L394.50,210.91 L395.00,211.41 L395.30,211.70 M401.10,217.50 L401.60,217.94 L402.10,218.38 L402.60,218.82 L403.10,219.26 L403.60,219.69 L404.10,220.13 L404.60,220.56 L405.10,221.00 L405.60,221.44 L405.90,221.70 M412.60,227.60 L413.10,228.04 L413.60,228.49 L414.10,228.94 L414.60,229.39 L415.10,229.85 L415.60,230.31 L416.10,230.77 L416.60,231.24 L417.10,231.71 L417.60,232.17 L418.10,232.64 L418.60,233.11 L419.10,233.59 L419.60,234.06 L420.10,234.53 L420.60,235.00 L421.10,235.48 L421.60,235.95 L422.10,236.42 L422.60,236.89 L423.10,237.36 L423.60,237.82 L424.10,238.29 L424.60,238.75 L425.10,239.21 L425.60,239.67 L426.10,240.12 L426.60,240.57 L427.10,241.02 L427.60,241.46 L428.10,241.90 L428.60,242.33 L429.10,242.76 L429.60,243.19 L430.10,243.61 L430.60,244.02 L430.70,244.10 M438.00,249.50 L438.50,249.86 L439.00,250.21 L439.50,250.57 L440.00,250.93 L440.50,251.29 L441.00,251.64 L441.50,252.00 L442.00,252.36 L442.50,252.71 L442.90,253.00 M450.50,258.50 L451.00,258.83 L451.50,259.16 L452.00,259.48 L452.50,259.80 L453.00,260.11 L453.50,260.42 L454.00,260.73 L454.50,261.03 L455.00,261.33 L455.50,261.62 L456.00,261.91 L456.50,262.20 L457.00,262.48 L457.50,262.76 L458.00,263.04 L458.50,263.32 L459.00,263.59 L459.50,263.86 L460.00,264.13 L460.50,264.39 L461.00,264.66 L461.50,264.92 L462.00,265.18 L462.50,265.44 L463.00,265.70 L463.50,265.96 L464.00,266.22 L464.50,266.47 L465.00,266.73 L465.50,266.99 L466.00,267.24 L466.50,267.50 L467.00,267.75 L467.50,268.01 L468.00,268.26 L468.50,268.52 L469.00,268.77 L469.50,269.03 L470.00,269.29 L470.50,269.55 L471.00,269.81 L471.50,270.08 L472.00,270.34 L472.30,270.50 M480.60,274.90 L481.10,275.16 L481.60,275.42 L482.10,275.67 L482.60,275.92 L483.10,276.17 L483.60,276.42 L484.10,276.67 L484.60,276.91 L485.10,277.15 L485.40,277.30 M494.50,281.30 L495.00,281.49 L495.50,281.69 L496.00,281.88 L496.50,282.07 L497.00,282.26 L497.50,282.44 L498.00,282.63 L498.50,282.81 L499.00,283.00 L499.50,283.18 L500.00,283.36 L500.50,283.54 L501.00,283.72 L501.50,283.90 L502.00,284.08 L502.50,284.25 L503.00,284.43 L503.50,284.60 L504.00,284.77 L504.50,284.94 L505.00,285.11 L505.50,285.28 L506.00,285.45 L506.50,285.62 L507.00,285.79 L507.50,285.95 L508.00,286.12 L508.50,286.28 L509.00,286.44 L509.50,286.61 L510.00,286.77 L510.50,286.93 L511.00,287.09 L511.50,287.25 L512.00,287.40 L512.50,287.56 L513.00,287.72 L513.50,287.87 L514.00,288.03 L514.50,288.18 L515.00,288.33 L515.50,288.49 L516.00,288.64 L516.50,288.79 L517.00,288.94 L517.20,289.00 M526.80,291.70 L527.30,291.85 L527.80,292.02 L528.30,292.19 L528.80,292.36 L529.30,292.54 L529.80,292.71 L530.30,292.88 L530.80,293.04 L531.30,293.20 L531.80,293.35 L532.00,293.40 M541.20,295.40 L541.70,295.52 L542.20,295.64 L542.70,295.77 L543.20,295.90 L543.70,296.02 L544.20,296.15 L544.70,296.29 L545.20,296.42 L545.70,296.55 L546.20,296.69 L546.70,296.82 L547.20,296.96 L547.70,297.09 L548.20,297.23 L548.70,297.36 L549.20,297.50 L549.70,297.63 L550.20,297.77 L550.70,297.90 L551.20,298.03 L551.70,298.16 L552.20,298.29 L552.70,298.41 L553.20,298.53 L553.70,298.66 L554.20,298.77 L554.70,298.89 L555.20,299.00 L555.70,299.11 L556.20,299.22 L556.60,299.30 M566.30,301.00 L566.80,301.09 L567.30,301.19 L567.80,301.28 L568.30,301.38 L568.80,301.47 L569.30,301.57 L569.80,301.67 L570.30,301.76 L570.80,301.86 L571.30,301.96 L571.80,302.06 L572.30,302.16 L572.80,302.25 L573.30,302.35 L573.80,302.45 L574.30,302.55 L574.80,302.65 L575.30,302.75 L575.80,302.85 L576.30,302.95 L576.80,303.05 L577.30,303.16 L577.80,303.26 L578.30,303.36 L578.80,303.46 L579.30,303.56 L579.80,303.66 L580.30,303.76 L580.80,303.86 L581.30,303.96 L581.80,304.06 L582.30,304.16 L582.80,304.25 L583.30,304.35 L583.80,304.45 L584.30,304.55 L584.80,304.65 L585.30,304.74 L585.80,304.84 L586.30,304.94 L586.80,305.03 L587.30,305.13 L587.80,305.22 L588.30,305.31 L588.80,305.41 L589.30,305.50 L589.80,305.59 L590.30,305.68 L590.40,305.70 M600.40,307.00 L600.90,307.09 L601.40,307.19 L601.90,307.29 L602.40,307.39 L602.90,307.50 L603.40,307.60 L603.90,307.70 L604.40,307.80 L604.90,307.90 L605.40,308.00 M614.80,309.70 L615.30,309.77 L615.80,309.84 L616.30,309.91 L616.80,309.98 L617.30,310.05 L617.80,310.12 L618.30,310.19 L618.80,310.26 L619.30,310.33 L619.80,310.39 L620.30,310.46 L620.80,310.53 L621.30,310.59 L621.80,310.66 L622.30,310.73 L622.80,310.79 L623.30,310.86 L623.80,310.92 L624.30,310.99 L624.80,311.05 L625.30,311.11 L625.80,311.18 L626.30,311.24 L626.80,311.31 L627.30,311.37 L627.80,311.43 L628.30,311.49 L628.80,311.56 L629.30,311.62 L629.80,311.68 L630.30,311.74 L630.80,311.81 L631.30,311.87 L631.80,311.93 L632.30,311.99 L632.80,312.05 L633.30,312.11 L633.80,312.18 L634.30,312.24 L634.80,312.30 L635.30,312.36 L635.80,312.42 L636.30,312.48 L636.80,312.54 L637.30,312.60 L637.80,312.67 L638.30,312.73 L638.80,312.79 L638.90,312.80 M648.80,314.00 L649.30,314.06 L649.80,314.13 L650.30,314.21 L650.80,314.28 L651.30,314.36 L651.80,314.43 L652.30,314.50 L652.80,314.57 L653.30,314.63 L653.80,314.68 L654.00,314.70 M663.60,315.50 L664.10,315.54 L664.60,315.58 L665.10,315.63 L665.60,315.67 L666.10,315.71 L666.60,315.75 L667.10,315.80 L667.60,315.84 L668.10,315.88 L668.60,315.92 L669.10,315.97 L669.60,316.01 L670.10,316.05 L670.60,316.09 L671.10,316.14 L671.60,316.18 L672.10,316.22 L672.60,316.27 L673.10,316.31 L673.60,316.35 L674.10,316.39 L674.60,316.44 L675.10,316.48 L675.60,316.52 L676.10,316.56 L676.60,316.61 L677.10,316.65 L677.60,316.69 L678.10,316.74 L678.60,316.78 L679.10,316.82 L679.60,316.86 L680.10,316.91 L680.60,316.95 L681.10,316.99 L681.60,317.03 L682.10,317.08 L682.60,317.12 L683.10,317.16 L683.60,317.20 L684.10,317.25 L684.60,317.29 L685.10,317.33 L685.60,317.37 L686.10,317.41 L686.60,317.46 L687.10,317.50 L687.60,317.54 L688.10,317.58 L688.30,317.60 M698.00,318.20 L698.50,318.24 L699.00,318.27 L699.50,318.31 L700.00,318.35 L700.50,318.40 L701.00,318.44 L701.50,318.48 L702.00,318.53 L702.50,318.58 L703.00,318.62 L703.50,318.67 L704.00,318.72 L704.50,318.77 L705.00,318.82 L705.50,318.88 L706.00,318.93 L706.50,318.98 L707.00,319.04 L707.50,319.09 L708.00,319.14 L708.50,319.20 L709.00,319.26 L709.50,319.31 L710.00,319.37 L710.50,319.42 L711.00,319.48 L711.50,319.54 L712.00,319.59 L712.50,319.65 L713.00,319.71 L713.50,319.76 L714.00,319.82 L714.50,319.87 L715.00,319.93 L715.50,319.98 L716.00,320.04 L716.50,320.09 L717.00,320.14 L717.50,320.20 L718.00,320.25 L718.50,320.30 L719.00,320.35 L719.50,320.40 L720.00,320.45 L720.50,320.49 L721.00,320.54 L721.50,320.59 L722.00,320.63 L722.50,320.67 L723.00,320.71 L723.50,320.75 L724.00,320.79 L724.50,320.83 L725.00,320.87 L725.50,320.90 M735.20,321.20 L735.70,321.23 L736.20,321.27 L736.70,321.30 L737.20,321.34 L737.70,321.38 L738.20,321.42 L738.70,321.46 L739.20,321.50 L739.70,321.54 L740.20,321.57 L740.70,321.60 M750.00,322.00 L750.50,322.03 L751.00,322.06 L751.50,322.09 L752.00,322.12 L752.50,322.15 L753.00,322.18 L753.50,322.22 L754.00,322.25 L754.50,322.29 L755.00,322.32 L755.50,322.36 L756.00,322.40 L756.50,322.43 L757.00,322.47 L757.50,322.51 L758.00,322.55 L758.50,322.59 L759.00,322.63 L759.50,322.67 L760.00,322.71 L760.50,322.75 L761.00,322.79 L761.50,322.83 L762.00,322.87 L762.50,322.91 L763.00,322.95 L763.50,322.99 L764.00,323.04 L764.50,323.08 L765.00,323.12 L765.50,323.16 L766.00,323.20 L766.50,323.24 L767.00,323.27 L767.50,323.31 L768.00,323.35 L768.50,323.39 L769.00,323.43 L769.50,323.46 L770.00,323.50 L770.50,323.53 L771.00,323.57 L771.50,323.60 L772.00,323.64 L772.50,323.67 L773.00,323.70 L773.50,323.73 L774.00,323.76 L774.50,323.79 L774.70,323.80 M784.30,324.10 L784.80,324.13 L785.30,324.16 L785.80,324.20 L786.30,324.24 L786.80,324.28 L787.30,324.32 L787.80,324.36 L788.30,324.40 L788.80,324.44 L789.30,324.47 L789.80,324.50 L789.90,324.50 M799.20,324.70 L799.70,324.72 L800.20,324.74 L800.70,324.76 L801.20,324.79 L801.70,324.81 L802.20,324.83 L802.70,324.86 L803.20,324.88 L803.70,324.90 L804.20,324.93 L804.70,324.95 L805.20,324.98 L805.70,325.00 L806.20,325.03 L806.70,325.06 L807.20,325.08 L807.70,325.11 L808.20,325.14 L808.70,325.17 L809.20,325.19 L809.70,325.22 L810.20,325.25 L810.70,325.28 L811.20,325.31 L811.70,325.35 L812.20,325.38 L812.70,325.41 L813.20,325.44 L813.70,325.47 L814.20,325.51 L814.70,325.54 L815.20,325.58 L815.70,325.61 L816.20,325.65 L816.60,325.68" stroke="#ff0000" stroke-width="2.6"/>
<path d="M100.40,151.10 L100.90,152.27 L101.40,153.43 L101.90,154.58 L102.40,155.74 L102.90,156.89 L103.40,158.04 L103.90,159.20 M112.60,173.60 L113.10,173.94 L113.60,174.27 L114.10,174.60 L114.60,174.92 L115.10,175.24 L115.60,175.55 L116.10,175.84 L116.60,176.13 L117.10,176.40 L117.60,176.66 L118.10,176.90 L118.60,177.12 L119.10,177.32 L119.60,177.49 L120.10,177.65 L120.30,177.70 M137.00,181.90 L137.50,182.02 L138.00,182.13 L138.50,182.25 L139.00,182.36 L139.50,182.48 L140.00,182.59 L140.50,182.71 L141.00,182.82 L141.50,182.94 L142.00,183.05 L142.50,183.17 L143.00,183.28 L143.50,183.40 L144.00,183.51 L144.50,183.62 L145.00,183.73 L145.30,183.80 M162.10,187.10 L162.60,187.23 L163.10,187.36 L163.60,187.49 L164.10,187.63 L164.60,187.77 L165.10,187.92 L165.60,188.06 L166.10,188.21 L166.60,188.36 L167.10,188.51 L167.60,188.66 L168.10,188.81 L168.60,188.96 L169.10,189.11 L169.60,189.26 L170.10,189.40 L170.60,189.54 L170.80,189.60 M187.20,193.90 L187.70,194.10 L188.20,194.30 L188.70,194.50 L189.20,194.71 L189.70,194.92 L190.20,195.13 L190.70,195.34 L191.20,195.55 L191.70,195.76 L192.20,195.98 L192.70,196.19 L193.20,196.40 L193.70,196.62 L194.20,196.83 L194.70,197.05 L195.20,197.26 L195.30,197.30 M211.30,204.10 L211.80,204.33 L212.30,204.58 L212.80,204.85 L213.30,205.14 L213.80,205.44 L214.30,205.75 L214.80,206.08 L215.30,206.41 L215.80,206.74 L216.30,207.08 L216.80,207.42 L217.30,207.76 L217.80,208.10 L218.30,208.43 L218.40,208.50 M232.70,218.30 L233.20,218.68 L233.70,219.07 L234.20,219.47 L234.70,219.88 L235.20,220.30 L235.70,220.73 L236.20,221.16 L236.70,221.59 L237.20,222.04 L237.70,222.48 L238.20,222.93 L238.70,223.38 L239.20,223.83 L239.50,224.10 M251.60,235.70 L252.10,236.24 L252.60,236.80 L253.10,237.36 L253.60,237.93 L254.10,238.50 L254.60,239.08 L255.10,239.67 L255.60,240.26 L256.10,240.85 L256.60,241.45 L257.10,242.04 L257.40,242.40 M268.40,255.90 L268.90,256.56 L269.40,257.23 L269.90,257.91 L270.40,258.61 L270.90,259.32 L271.40,260.04 L271.90,260.76 L272.40,261.50 L272.90,262.25 L273.20,262.70 M282.80,277.50 L283.30,278.25 L283.80,278.98 L284.30,279.70 L284.80,280.42 L285.30,281.14 L285.80,281.86 L286.30,282.58 L286.80,283.32 L287.30,284.08 L287.70,284.70 M296.60,299.30 L297.10,300.10 L297.60,300.89 L298.10,301.69 L298.60,302.48 L299.10,303.28 L299.60,304.07 L300.10,304.86 L300.60,305.65 L301.10,306.44 L301.20,306.60 M310.50,321.10 L311.00,321.84 L311.50,322.57 L312.00,323.27 L312.50,323.96 L313.00,324.63 L313.50,325.30 L314.00,325.96 L314.50,326.62 L315.00,327.27 L315.50,327.93 L315.70,328.20 M326.30,341.70 L326.80,342.28 L327.30,342.84 L327.80,343.37 L328.30,343.87 L328.80,344.35 L329.30,344.80 L329.80,345.24 L330.30,345.66 L330.80,346.07 L331.30,346.46 L331.80,346.84 L332.30,347.21 L332.70,347.50 M348.70,353.50 L349.20,353.51 L349.70,353.52 L350.20,353.51 L350.70,353.50 L351.20,353.47 L351.70,353.44 L352.20,353.40 L352.70,353.34 L353.20,353.28 L353.70,353.20 L354.20,353.11 L354.70,353.01 L355.20,352.90 L355.70,352.78 L356.20,352.65 L356.70,352.50 M371.80,343.80 L372.30,343.41 L372.80,343.01 L373.30,342.62 L373.80,342.22 L374.30,341.82 L374.80,341.42 L375.30,341.02 L375.80,340.60 L376.30,340.18 L376.80,339.75 L377.30,339.31 L377.80,338.86 L378.30,338.40 M390.90,326.30 L391.40,325.81 L391.90,325.32 L392.40,324.84 L392.90,324.35 L393.40,323.86 L393.90,323.36 L394.40,322.87 L394.90,322.38 L395.40,321.89 L395.90,321.39 L396.40,320.90 L396.80,320.50 M408.80,307.60 L409.30,307.12 L409.80,306.67 L410.30,306.22 L410.80,305.78 L411.30,305.35 L411.80,304.93 L412.30,304.51 L412.80,304.09 L413.30,303.66 L413.80,303.24 L414.30,302.81 L414.80,302.36 L415.20,302.00 M428.00,289.80 L428.50,289.38 L429.00,288.97 L429.50,288.57 L430.00,288.18 L430.50,287.80 L431.00,287.43 L431.50,287.05 L432.00,286.68 L432.50,286.30 L433.00,285.93 L433.50,285.55 L434.00,285.16 L434.50,284.76 L434.70,284.60 M447.80,273.60 L448.30,273.21 L448.80,272.83 L449.30,272.45 L449.80,272.08 L450.30,271.72 L450.80,271.36 L451.30,271.01 L451.80,270.66 L452.30,270.32 L452.80,269.98 L453.30,269.65 L453.80,269.31 L454.30,268.99 L454.80,268.66 L454.90,268.60 M469.80,259.50 L470.30,259.22 L470.80,258.94 L471.30,258.67 L471.80,258.39 L472.30,258.12 L472.80,257.85 L473.30,257.57 L473.80,257.30 L474.30,257.03 L474.80,256.77 L475.30,256.50 L475.80,256.24 L476.30,255.97 L476.80,255.71 L477.20,255.50 M492.90,247.50 L493.40,247.25 L493.90,247.00 L494.40,246.75 L494.90,246.50 L495.40,246.25 L495.90,246.00 L496.40,245.76 L496.90,245.52 L497.40,245.28 L497.90,245.05 L498.40,244.82 L498.90,244.60 L499.40,244.39 L499.90,244.18 L500.40,243.98 L500.60,243.90 M517.00,238.40 L517.50,238.22 L518.00,238.04 L518.50,237.86 L519.00,237.67 L519.50,237.49 L520.00,237.30 L520.50,237.12 L521.00,236.93 L521.50,236.75 L522.00,236.56 L522.50,236.38 L523.00,236.20 L523.50,236.02 L524.00,235.84 L524.50,235.67 L525.00,235.50 M541.50,230.40 L542.00,230.25 L542.50,230.10 L543.00,229.95 L543.50,229.79 L544.00,229.64 L544.50,229.49 L545.00,229.34 L545.50,229.19 L546.00,229.04 L546.50,228.90 L547.00,228.76 L547.50,228.62 L548.00,228.49 L548.50,228.37 L549.00,228.25 L549.50,228.14 L549.70,228.10 M566.90,224.60 L567.40,224.50 L567.90,224.40 L568.40,224.29 L568.90,224.19 L569.40,224.09 L569.90,223.98 L570.40,223.88 L570.90,223.78 L571.40,223.67 L571.90,223.57 L572.40,223.47 L572.90,223.37 L573.40,223.26 L573.90,223.16 L574.40,223.06 L574.90,222.96 L575.20,222.90 M592.40,220.70 L592.90,220.63 L593.40,220.55 L593.90,220.48 L594.40,220.40 L594.90,220.32 L595.40,220.25 L595.90,220.17 L596.40,220.09 L596.90,220.01 L597.40,219.93 L597.90,219.86 L598.40,219.78 L598.90,219.71 L599.40,219.63 L599.90,219.56 L600.40,219.49 L600.90,219.43 L601.10,219.40 M618.10,217.40 L618.60,217.34 L619.10,217.29 L619.60,217.23 L620.10,217.18 L620.60,217.12 L621.10,217.07 L621.60,217.02 L622.10,216.96 L622.60,216.91 L623.10,216.86 L623.60,216.81 L624.10,216.76 L624.60,216.71 L625.10,216.66 L625.60,216.61 L626.10,216.56 L626.60,216.51 L626.70,216.50 M644.10,215.30 L644.60,215.25 L645.10,215.21 L645.60,215.16 L646.10,215.11 L646.60,215.05 L647.10,215.00 L647.60,214.95 L648.10,214.89 L648.60,214.84 L649.10,214.78 L649.60,214.73 L650.10,214.67 L650.60,214.62 L651.10,214.57 L651.60,214.52 L652.10,214.47 L652.60,214.42 L652.80,214.40 M670.10,213.00 L670.60,212.95 L671.10,212.90 L671.60,212.84 L672.10,212.77 L672.60,212.71 L673.10,212.64 L673.60,212.57 L674.10,212.50 L674.60,212.43 L675.10,212.36 L675.60,212.29 L676.10,212.23 L676.60,212.17 L677.10,212.11 L677.60,212.07 L678.10,212.03 L678.50,212.00 M696.00,211.30 L696.50,211.28 L697.00,211.25 L697.50,211.22 L698.00,211.20 L698.50,211.17 L699.00,211.14 L699.50,211.11 L700.00,211.09 L700.50,211.06 L701.00,211.03 L701.50,211.00 L702.00,210.98 L702.50,210.95 L703.00,210.93 L703.50,210.91 L703.70,210.90 M721.10,211.10 L721.60,211.09 L722.10,211.07 L722.60,211.05 L723.10,211.03 L723.60,211.00 L724.10,210.98 L724.60,210.95 L725.10,210.92 L725.60,210.90 L726.10,210.87 L726.60,210.84 L727.10,210.81 L727.60,210.79 L728.10,210.77 L728.60,210.74 L729.10,210.72 L729.60,210.71 L729.80,210.70 M747.50,210.50 L748.00,210.48 L748.50,210.45 L749.00,210.42 L749.50,210.39 L750.00,210.35 L750.50,210.31 L751.00,210.26 L751.50,210.22 L752.00,210.17 L752.50,210.13 L753.00,210.09 L753.50,210.05 L754.00,210.01 L754.50,209.97 L755.00,209.94 L755.50,209.91 L755.80,209.90 M773.50,209.50 L774.00,209.48 L774.50,209.45 L775.00,209.42 L775.50,209.39 L776.00,209.36 L776.50,209.33 L777.00,209.29 L777.50,209.26 L778.00,209.23 L778.50,209.19 L779.00,209.16 L779.50,209.13 L780.00,209.10 L780.50,209.07 L781.00,209.04 L781.50,209.01 L781.80,209.00 M799.20,208.60 L799.70,208.58 L800.20,208.55 L800.70,208.53 L801.20,208.50 L801.70,208.47 L802.20,208.44 L802.70,208.41 L803.20,208.37 L803.70,208.34 L804.20,208.30 L804.70,208.26 L805.20,208.23 L805.70,208.18 L806.20,208.14 L806.70,208.10 L807.20,208.06 L807.70,208.01 L807.80,208.00" stroke="#b800ff" stroke-width="1.35"/>
<path d="M149.30,404.34 L149.80,404.33 L150.30,404.33 L150.80,404.32 L151.30,404.32 L151.80,404.31 L152.30,404.31 L152.80,404.30 L153.10,404.30 M164.70,404.00 L165.20,403.98 L165.70,403.95 L166.20,403.92 L166.70,403.88 L167.20,403.84 L167.70,403.80 L168.20,403.75 L168.70,403.70 L169.20,403.65 L169.70,403.59 L170.20,403.54 L170.70,403.48 L171.20,403.41 L171.70,403.35 L172.20,403.28 L172.70,403.21 L173.20,403.14 L173.70,403.06 L174.20,402.99 L174.70,402.91 L175.20,402.83 L175.70,402.75 L176.20,402.67 L176.70,402.58 L177.20,402.50 L177.70,402.41 L178.20,402.32 L178.70,402.23 L179.20,402.14 L179.70,402.05 L180.20,401.95 L180.70,401.86 L181.20,401.76 L181.70,401.66 L182.20,401.57 L182.70,401.47 L183.20,401.38 L183.70,401.28 L184.20,401.19 L184.70,401.09 L185.20,401.00 L185.70,400.90 L186.20,400.81 L186.70,400.72 L187.20,400.63 L187.40,400.60 M198.40,399.00 L198.90,398.86 L199.40,398.70 L199.90,398.53 L200.40,398.36 L200.90,398.18 L201.40,398.00 L201.90,397.83 L202.30,397.70 M212.90,394.40 L213.40,394.22 L213.90,394.02 L214.40,393.81 L214.90,393.59 L215.40,393.36 L215.90,393.13 L216.40,392.90 M226.00,388.10 L226.50,387.80 L227.00,387.49 L227.50,387.17 L228.00,386.84 L228.50,386.50 L229.00,386.15 L229.50,385.79 L230.00,385.42 L230.50,385.05 L231.00,384.67 L231.50,384.28 L232.00,383.89 L232.50,383.50 L233.00,383.10 L233.50,382.70 L234.00,382.30 L234.50,381.90 L235.00,381.50 L235.50,381.10 L236.00,380.69 L236.50,380.29 L237.00,379.88 L237.50,379.46 L238.00,379.04 L238.50,378.62 L239.00,378.19 L239.50,377.76 L240.00,377.33 L240.50,376.89 L241.00,376.45 L241.50,376.00 L242.00,375.55 L242.50,375.09 L243.00,374.63 L243.50,374.17 L244.00,373.69 L244.10,373.60 M251.40,365.50 L251.90,364.83 L252.40,364.14 L252.90,363.44 L253.40,362.74 L253.80,362.20 M260.70,353.20 L261.20,352.50 L261.70,351.76 L262.20,350.95 L262.70,350.07 L263.00,349.50 M267.40,340.80 L267.90,339.81 L268.40,338.82 L268.90,337.83 L269.40,336.83 L269.90,335.84 L270.40,334.85 L270.90,333.86 L271.40,332.86 L271.90,331.87 L272.40,330.88 L272.90,329.88 L273.40,328.89 L273.90,327.89 L274.40,326.90 L274.90,325.90 L275.40,324.90 L275.90,323.90 L276.40,322.90 L276.90,321.90 L277.40,320.90 L277.90,319.90 L278.10,319.50 M282.50,308.60 L283.00,307.59 L283.50,306.64 L283.90,305.70 M287.70,295.10 L288.20,293.73 L288.70,292.35 L288.90,291.80 M292.10,281.60 L292.60,280.15 L293.10,278.77 L293.60,277.45 L294.10,276.15 L294.60,274.88 L295.10,273.59 L295.60,272.28 L296.10,270.92 L296.60,269.50 L297.10,268.03 L297.60,266.54 L298.10,265.01 L298.60,263.43 L299.10,261.80 L299.60,260.10 L299.80,259.40 M302.70,248.80 L303.20,247.03 L303.70,245.30 M307.50,234.30 L308.00,232.10 L308.30,230.80 M310.90,221.15 L311.40,219.41 L311.90,217.69 L312.40,215.98 L312.90,214.29 L313.40,212.61 L313.90,210.93 L314.40,209.25 L314.90,207.57 L315.40,205.88 L315.90,204.18 L316.40,202.47 L316.90,200.75 L317.40,199.00 M320.50,187.60 L321.00,185.95 L321.50,184.35 L321.70,183.70 M324.90,172.70 L325.40,171.38 L325.90,170.34 L326.30,169.30 M329.90,155.40 L330.40,153.96 L330.90,152.56 L331.40,151.20 L331.90,149.86 L332.40,148.54 L332.90,147.22 L333.40,145.92 L333.90,144.60 L334.40,143.28 L334.90,141.93 L335.40,140.56 L335.90,139.15 L336.40,137.69 L336.60,137.10 M340.10,126.50 L340.60,124.92 L341.10,123.32 L341.30,122.70 M345.30,112.40 L345.80,111.33 L346.30,110.26 L346.80,109.20 M351.70,98.90 L352.20,97.89 L352.70,96.93 L353.20,96.01 L353.70,95.14 L354.20,94.30 L354.70,93.50 L355.20,92.72 L355.70,91.98 L356.20,91.25 L356.70,90.54 L357.20,89.85 L357.70,89.17 L358.20,88.50 L358.70,87.83 L359.20,87.18 L359.70,86.53 L360.20,85.90 L360.70,85.28 L361.20,84.67 L361.70,84.08 L362.20,83.51 L362.70,82.95 L363.20,82.41 L363.70,81.89 L364.20,81.39 L364.70,80.92 L365.20,80.46 L365.50,80.20 M374.80,74.80 L375.30,74.63 L375.80,74.48 L376.30,74.34 L376.80,74.21 L377.30,74.10 L377.80,74.01 L378.30,73.94 L378.70,73.90 M388.70,75.00 L389.20,75.20 L389.70,75.41 L390.20,75.64 L390.70,75.88 L391.20,76.13 L391.70,76.38 L392.20,76.64 L392.70,76.90 L392.90,77.00 M402.20,82.20 L402.70,82.58 L403.20,82.97 L403.70,83.36 L404.20,83.76 L404.70,84.16 L405.20,84.57 L405.70,84.98 L406.20,85.39 L406.70,85.80 L407.20,86.22 L407.70,86.63 L408.20,87.05 L408.70,87.47 L409.20,87.89 L409.70,88.31 L410.20,88.73 L410.70,89.15 L411.20,89.57 L411.70,89.98 L412.20,90.40 L412.70,90.82 L413.20,91.23 L413.70,91.65 L414.20,92.07 L414.70,92.48 L415.20,92.90 L415.70,93.32 L416.20,93.74 L416.70,94.16 L417.20,94.58 L417.70,95.00 L418.20,95.42 L418.70,95.85 L419.20,96.28 L419.70,96.71 L420.20,97.14 L420.50,97.40 M427.80,104.30 L428.30,104.74 L428.80,105.18 L429.30,105.62 L429.80,106.06 L430.30,106.49 L430.80,106.93 L431.10,107.20 M439.20,114.60 L439.70,115.03 L440.20,115.43 L440.70,115.81 L441.20,116.19 L441.70,116.58 L442.20,116.97 L442.70,117.40 M450.20,124.70 L450.70,125.14 L451.20,125.59 L451.70,126.03 L452.20,126.48 L452.70,126.92 L453.20,127.36 L453.70,127.80 L454.20,128.24 L454.70,128.68 L455.20,129.12 L455.70,129.55 L456.20,129.99 L456.70,130.42 L457.20,130.86 L457.70,131.29 L458.20,131.73 L458.70,132.16 L459.20,132.59 L459.70,133.02 L460.20,133.45 L460.70,133.88 L461.20,134.30 L461.70,134.73 L462.20,135.15 L462.70,135.58 L463.20,136.00 L463.70,136.42 L464.20,136.84 L464.70,137.26 L465.20,137.68 L465.70,138.10 L466.20,138.51 L466.70,138.93 L467.20,139.34 L467.70,139.75 L468.00,140.00 M476.30,146.60 L476.80,146.97 L477.30,147.33 L477.80,147.68 L478.30,148.03 L478.80,148.38 L479.30,148.74 L479.80,149.10 M487.90,155.30 L488.40,155.65 L488.90,155.98 L489.40,156.31 L489.90,156.63 L490.40,156.94 L490.90,157.27 L491.40,157.60 L491.70,157.80 M501.00,164.40 L501.50,164.74 L502.00,165.08 L502.50,165.41 L503.00,165.75 L503.50,166.08 L504.00,166.41 L504.50,166.74 L505.00,167.07 L505.50,167.40 L506.00,167.73 L506.50,168.05 L507.00,168.38 L507.50,168.70 L508.00,169.02 L508.50,169.34 L509.00,169.66 L509.50,169.98 L510.00,170.29 L510.50,170.60 L511.00,170.91 L511.50,171.22 L512.00,171.53 L512.50,171.84 L513.00,172.14 L513.50,172.44 L514.00,172.74 L514.50,173.04 L515.00,173.34 L515.50,173.63 L516.00,173.92 L516.50,174.21 L517.00,174.50 L517.50,174.78 L518.00,175.07 L518.50,175.35 L519.00,175.63 L519.50,175.90 L520.00,176.18 L520.50,176.45 L520.60,176.50 M530.20,181.50 L530.70,181.75 L531.20,182.00 L531.70,182.26 L532.20,182.51 L532.70,182.76 L533.20,183.01 L533.70,183.25 L534.00,183.40 M543.50,187.90 L544.00,188.13 L544.50,188.36 L545.00,188.59 L545.50,188.82 L546.00,189.04 L546.50,189.27 L547.00,189.49 L547.50,189.71 L547.70,189.80 M567.00,198.10 L567.50,198.31 L568.00,198.52 L568.50,198.73 L569.00,198.94 L569.50,199.15 L570.00,199.36 L570.50,199.57 L571.00,199.78 L571.50,199.99 L572.00,200.20 L572.50,200.41 L573.00,200.61 L573.50,200.82 L574.00,201.03 L574.50,201.23 L575.00,201.44 L575.50,201.64 L576.00,201.85 L576.50,202.05 L577.00,202.26 L577.50,202.46 L578.00,202.67 L578.50,202.87 L579.00,203.07 L579.50,203.27 L580.00,203.48 L580.50,203.68 L581.00,203.88 L581.50,204.08 L582.00,204.28 L582.50,204.48 L583.00,204.68 L583.50,204.88 L584.00,205.08 L584.50,205.27 L585.00,205.47 L585.50,205.67 L586.00,205.87 L586.50,206.06 L587.00,206.26 L587.50,206.45 L588.00,206.65 L588.50,206.84 L588.90,207.00 M598.80,210.50 L599.30,210.66 L599.80,210.81 L600.30,210.96 L600.80,211.11 L601.30,211.26 L601.80,211.41 L602.30,211.57 L602.70,211.70 M612.90,215.30 L613.40,215.46 L613.90,215.62 L614.40,215.77 L614.90,215.93 L615.40,216.09 L615.90,216.25 L616.40,216.41 L616.70,216.50 M627.10,219.80 L627.60,219.96 L628.10,220.11 L628.60,220.26 L629.10,220.41 L629.60,220.56 L630.10,220.71 L630.60,220.85 L631.10,221.00 L631.60,221.14 L632.10,221.28 L632.60,221.41 L633.10,221.55 L633.60,221.68 L634.10,221.82 L634.60,221.95 L635.10,222.08 L635.60,222.20 L636.10,222.33 L636.60,222.46 L637.10,222.58 L637.60,222.70 L638.10,222.82 L638.60,222.94 L639.10,223.06 L639.60,223.18 L640.10,223.30 L640.60,223.41 L641.10,223.53 L641.60,223.64 L642.10,223.75 L642.60,223.86 L643.10,223.97 L643.60,224.08 L644.10,224.19 L644.60,224.30 L645.10,224.41 L645.60,224.52 L646.10,224.62 L646.60,224.73 L647.10,224.83 L647.60,224.94 L648.10,225.04 L648.60,225.15 L649.10,225.25 L649.60,225.36 L650.10,225.46 L650.30,225.50 M660.50,227.50 L661.00,227.60 L661.50,227.71 L662.00,227.82 L662.50,227.92 L663.00,228.03 L663.50,228.14 L664.00,228.25 L664.50,228.36 L664.70,228.40 M675.00,230.80 L675.50,230.91 L676.00,231.03 L676.50,231.14 L677.00,231.24 L677.50,231.35 L678.00,231.46 L678.50,231.56 L679.00,231.66 L679.20,231.70 M690.20,233.50 L690.70,233.60 L691.20,233.69 L691.70,233.79 L692.20,233.89 L692.70,233.98 L693.20,234.08 L693.70,234.18 L694.20,234.28 L694.70,234.38 L695.20,234.47 L695.70,234.57 L696.20,234.67 L696.70,234.77 L697.20,234.87 L697.70,234.97 L698.20,235.07 L698.70,235.17 L699.20,235.27 L699.70,235.37 L700.20,235.48 L700.70,235.58 L701.20,235.68 L701.70,235.78 L702.20,235.88 L702.70,235.98 L703.20,236.09 L703.70,236.19 L704.20,236.29 L704.70,236.40 L705.20,236.50 L705.70,236.61 L706.20,236.72 L706.70,236.82 L707.20,236.93 L707.70,237.04 L708.20,237.14 L708.70,237.25 L709.20,237.36 L709.70,237.46 L710.20,237.57 L710.70,237.68 L711.20,237.79 L711.70,237.90 L712.20,238.00 L712.70,238.11 L713.20,238.22 L713.70,238.33 L714.20,238.44 L714.70,238.54 L715.20,238.65 L715.70,238.76 L716.20,238.87 L716.70,238.97 L717.20,239.08 L717.70,239.19 L718.20,239.29 L718.70,239.40 L719.20,239.50 L719.70,239.61 L720.20,239.71 L720.70,239.81 L721.20,239.92 L721.70,240.02 L722.20,240.12 L722.70,240.22 L723.20,240.32 L723.70,240.42 L724.20,240.52 L724.60,240.60 M735.20,242.30 L735.70,242.39 L736.20,242.49 L736.70,242.59 L737.20,242.69 L737.70,242.79 L738.20,242.89 L738.70,242.98 L739.20,243.07 L739.40,243.10 M750.00,244.40 L750.50,244.47 L751.00,244.54 L751.50,244.61 L752.00,244.68 L752.50,244.75 L753.00,244.82 L753.50,244.90 L754.00,244.97 L754.20,245.00 M764.80,246.70 L765.30,246.77 L765.80,246.83 L766.30,246.89 L766.80,246.96 L767.30,247.02 L767.80,247.08 L768.30,247.14 L768.80,247.20 L769.30,247.26 L769.80,247.32 L770.30,247.38 L770.80,247.44 L771.30,247.50 L771.80,247.56 L772.30,247.61 L772.80,247.67 L773.30,247.72 L773.80,247.78 L774.30,247.83 L774.80,247.89 L775.30,247.94 L775.80,247.99 L776.30,248.05 L776.80,248.10 L777.30,248.15 L777.80,248.20 L778.30,248.25 L778.80,248.30 L779.30,248.35 L779.80,248.40 L780.30,248.45 L780.80,248.50 L781.30,248.55 L781.80,248.60 L782.30,248.65 L782.80,248.70 L783.30,248.75 L783.80,248.80 L784.30,248.85 L784.80,248.89 L785.30,248.94 L785.80,248.99 L786.30,249.04 L786.80,249.09 L787.30,249.13 L787.80,249.18 L788.00,249.20 M798.80,250.20 L799.30,250.25 L799.80,250.30 L800.30,250.36 L800.80,250.41 L801.30,250.46 L801.80,250.52 L802.30,250.57 L802.60,250.60 M812.60,251.60 L813.10,251.65 L813.60,251.71 L814.10,251.77 L814.60,251.83 L815.10,251.90 L815.60,251.96 L815.90,252.00" stroke="#b800ff" stroke-width="1.35"/>
<path d="M100.4,404.5 L556.5,404.5" stroke="#7a1212" stroke-width="1"/>
<path d="M100.4,405.5 L556.5,405.5" stroke="#ff0000" stroke-opacity="0.35" stroke-width="1"/>
<path d="M554.00,405.00 L554.50,404.99 L555.00,404.97 L555.50,404.94 L556.00,404.91 L556.50,404.88 L557.00,404.85 L557.50,404.82 L558.00,404.78 L558.50,404.74 L559.00,404.68 L559.50,404.61 L560.00,404.50 L560.50,404.37 L561.00,404.24 L561.50,404.09 L562.00,403.94 L562.50,403.78 L563.00,403.61 L563.50,403.44 L564.00,403.27 L564.50,403.10 L565.00,402.93 L565.50,402.75 L566.00,402.58 L566.50,402.41 L567.00,402.23 L567.50,402.06 L568.00,401.88 L568.50,401.71 L569.00,401.54 L569.50,401.36 L570.00,401.19 L570.50,401.02 L571.00,400.84 L571.50,400.67 L572.00,400.50 L572.50,400.32 L573.00,400.15 L573.50,399.98 L574.00,399.80 L574.50,399.63 L575.00,399.45 L575.50,399.28 L576.00,399.11 L576.50,398.93 L577.00,398.76 L577.50,398.59 L578.00,398.41 L578.50,398.24 L579.00,398.07 L579.50,397.89 L580.00,397.72 L580.50,397.55 L581.00,397.37 L581.50,397.20 L582.00,397.03 L582.50,396.86 L583.00,396.69 L583.50,396.52 L584.00,396.35 L584.50,396.18 L585.00,396.01 L585.50,395.84 L586.00,395.67 L586.50,395.50 L587.00,395.33 L587.50,395.17 L588.00,395.01 L588.50,394.85 L589.00,394.69 L589.50,394.54 L590.00,394.38 L590.50,394.23 L591.00,394.09 L591.50,393.94 L592.00,393.80 L592.50,393.65 L593.00,393.51 L593.50,393.37 L594.00,393.23 L594.50,393.10 L595.00,392.96 L595.50,392.83 L596.00,392.69 L596.50,392.56 L597.00,392.43 L597.50,392.30 L598.00,392.17 L598.50,392.04 L599.00,391.91 L599.50,391.78 L600.00,391.65 L600.50,391.53 L601.00,391.40 L601.50,391.28 L602.00,391.15 L602.50,391.03 L603.00,390.91 L603.50,390.79 L604.00,390.67 L604.50,390.55 L605.00,390.43 L605.50,390.31 L606.00,390.19 L606.50,390.07 L607.00,389.95 L607.50,389.83 L608.00,389.71 L608.50,389.58 L609.00,389.46 L609.50,389.33 L610.00,389.20 L610.50,389.07 L611.00,388.94 L611.50,388.80 L612.00,388.67 L612.50,388.53 L613.00,388.40 L613.50,388.26 L614.00,388.13 L614.50,387.99 L615.00,387.85 L615.50,387.71 L616.00,387.58 L616.50,387.44 L617.00,387.30 L617.50,387.16 L618.00,387.03 L618.50,386.89 L619.00,386.76 L619.50,386.63 L620.00,386.49 L620.50,386.36 L621.00,386.23 L621.50,386.10 L622.00,385.96 L622.50,385.83 L623.00,385.70 L623.50,385.57 L624.00,385.44 L624.50,385.31 L625.00,385.18 L625.50,385.05 L626.00,384.92 L626.50,384.79 L627.00,384.66 L627.50,384.54 L628.00,384.42 L628.50,384.29 L629.00,384.17 L629.50,384.05 L630.00,383.93 L630.50,383.82 L631.00,383.70 L631.50,383.58 L632.00,383.47 L632.50,383.35 L633.00,383.24 L633.50,383.13 L634.00,383.01 L634.50,382.90 L635.00,382.79 L635.50,382.68 L636.00,382.57 L636.50,382.46 L637.00,382.34 L637.50,382.23 L638.00,382.12 L638.50,382.01 L639.00,381.90 L639.50,381.79 L640.00,381.68 L640.50,381.57 L641.00,381.46 L641.50,381.34 L642.00,381.23 L642.50,381.12 L643.00,381.01 L643.50,380.90 L644.00,380.79 L644.50,380.68 L645.00,380.58 L645.50,380.47 L646.00,380.36 L646.50,380.25 L647.00,380.14 L647.50,380.03 L648.00,379.93 L648.50,379.82 L649.00,379.72 L649.50,379.61 L650.00,379.51 L650.50,379.41 L651.00,379.31 L651.50,379.21 L652.00,379.12 L652.50,379.02 L653.00,378.93 L653.50,378.83 L654.00,378.74 L654.50,378.65 L655.00,378.56 L655.50,378.47 L656.00,378.38 L656.50,378.29 L657.00,378.21 L657.50,378.12 L658.00,378.03 L658.50,377.95 L659.00,377.86 L659.50,377.78 L660.00,377.70 L660.50,377.61 L661.00,377.53 L661.50,377.45 L662.00,377.37 L662.50,377.29 L663.00,377.21 L663.50,377.14 L664.00,377.06 L664.50,376.98 L665.00,376.91 L665.50,376.83 L666.00,376.76 L666.50,376.69 L667.00,376.61 L667.50,376.54 L668.00,376.47 L668.50,376.40 L669.00,376.33 L669.50,376.26 L670.00,376.19 L670.50,376.12 L671.00,376.05 L671.50,375.98 L672.00,375.92 L672.50,375.85 L673.00,375.79 L673.50,375.72 L674.00,375.66 L674.50,375.59 L675.00,375.53 L675.50,375.47 L676.00,375.42 L676.50,375.36 L677.00,375.30 L677.50,375.25 L678.00,375.20 L678.50,375.15 L679.00,375.10 L679.50,375.05 L680.00,375.01 L680.50,374.96 L681.00,374.91 L681.50,374.87 L682.00,374.82 L682.50,374.78 L683.00,374.73 L683.50,374.68 L684.00,374.64 L684.50,374.59 L685.00,374.55 L685.50,374.50 L686.00,374.46 L686.50,374.41 L687.00,374.37 L687.50,374.32 L688.00,374.28 L688.50,374.23 L689.00,374.19 L689.50,374.14 L690.00,374.10 L690.50,374.06 L691.00,374.01 L691.50,373.97 L692.00,373.92 L692.50,373.88 L693.00,373.83 L693.50,373.79 L694.00,373.75 L694.50,373.70 L695.00,373.66 L695.50,373.61 L696.00,373.57 L696.50,373.52 L697.00,373.48 L697.50,373.44 L698.00,373.39 L698.50,373.35 L699.00,373.30 L699.50,373.26 L700.00,373.22 L700.50,373.17 L701.00,373.13 L701.50,373.08 L702.00,373.04 L702.50,373.00 L703.00,372.95 L703.50,372.91 L704.00,372.86 L704.50,372.82 L705.00,372.78 L705.50,372.73 L706.00,372.69 L706.50,372.64 L707.00,372.60 L707.50,372.56 L708.00,372.51 L708.50,372.47 L709.00,372.43 L709.50,372.38 L710.00,372.34 L710.50,372.30 L711.00,372.25 L711.50,372.21 L712.00,372.17 L712.50,372.13 L713.00,372.08 L713.50,372.04 L714.00,372.00 L714.50,371.96 L715.00,371.92 L715.50,371.88 L716.00,371.84 L716.50,371.80 L717.00,371.76 L717.50,371.72 L718.00,371.68 L718.50,371.64 L719.00,371.60 L719.50,371.56 L720.00,371.53 L720.50,371.49 L721.00,371.45 L721.50,371.41 L722.00,371.37 L722.50,371.34 L723.00,371.30 L723.50,371.26 L724.00,371.23 L724.50,371.19 L725.00,371.15 L725.50,371.12 L726.00,371.08 L726.50,371.05 L727.00,371.01 L727.50,370.98 L728.00,370.94 L728.50,370.91 L729.00,370.87 L729.50,370.84 L730.00,370.81 L730.50,370.77 L731.00,370.74 L731.50,370.71 L732.00,370.68 L732.50,370.64 L733.00,370.61 L733.50,370.58 L734.00,370.55 L734.50,370.52 L735.00,370.49 L735.50,370.47 L736.00,370.44 L736.50,370.41 L737.00,370.38 L737.50,370.36 L738.00,370.33 L738.50,370.30 L739.00,370.28 L739.50,370.25 L740.00,370.23 L740.50,370.20 L741.00,370.18 L741.50,370.16 L742.00,370.13 L742.50,370.11 L743.00,370.09 L743.50,370.07 L744.00,370.05 L744.50,370.03 L745.00,370.01 L745.50,369.99 L746.00,369.97 L746.50,369.95 L747.00,369.93 L747.50,369.91 L748.00,369.89 L748.50,369.88 L749.00,369.86 L749.50,369.84 L750.00,369.82 L750.50,369.80 L751.00,369.79 L751.50,369.77 L752.00,369.75 L752.50,369.74 L753.00,369.72 L753.50,369.70 L754.00,369.68 L754.50,369.67 L755.00,369.65 L755.50,369.63 L756.00,369.62 L756.50,369.60 L757.00,369.59 L757.50,369.57 L758.00,369.55 L758.50,369.54 L759.00,369.52 L759.50,369.51 L760.00,369.49 L760.50,369.47 L761.00,369.46 L761.50,369.44 L762.00,369.43 L762.50,369.41 L763.00,369.40 L763.50,369.38 L764.00,369.37 L764.50,369.35 L765.00,369.34 L765.50,369.32 L766.00,369.31 L766.50,369.30 L767.00,369.28 L767.50,369.27 L768.00,369.25 L768.50,369.24 L769.00,369.23 L769.50,369.21 L770.00,369.20 L770.50,369.19 L771.00,369.17 L771.50,369.16 L772.00,369.15 L772.50,369.13 L773.00,369.12 L773.50,369.11 L774.00,369.09 L774.50,369.08 L775.00,369.07 L775.50,369.05 L776.00,369.04 L776.50,369.03 L777.00,369.01 L777.50,369.00 L778.00,368.99 L778.50,368.98 L779.00,368.96 L779.50,368.95 L780.00,368.94 L780.50,368.92 L781.00,368.91 L781.50,368.90 L782.00,368.89 L782.50,368.87 L783.00,368.86 L783.50,368.85 L784.00,368.84 L784.50,368.82 L785.00,368.81 L785.50,368.80 L786.00,368.79 L786.50,368.77 L787.00,368.76 L787.50,368.75 L788.00,368.74 L788.50,368.73 L789.00,368.71 L789.50,368.70 L790.00,368.69 L790.50,368.68 L791.00,368.67 L791.50,368.66 L792.00,368.64 L792.50,368.63 L793.00,368.62 L793.50,368.61 L794.00,368.60 L794.50,368.59 L795.00,368.58 L795.50,368.57 L796.00,368.56 L796.50,368.55 L797.00,368.54 L797.50,368.53 L798.00,368.52 L798.50,368.51 L799.00,368.49 L799.50,368.48 L800.00,368.47 L800.50,368.46 L801.00,368.46 L801.50,368.45 L802.00,368.44 L802.50,368.43 L803.00,368.42 L803.50,368.41 L804.00,368.40 L804.50,368.39 L805.00,368.38 L805.50,368.37 L806.00,368.36 L806.50,368.35 L807.00,368.34 L807.50,368.33 L808.00,368.32 L808.50,368.32 L809.00,368.31 L809.50,368.30 L810.00,368.29 L810.50,368.28 L811.00,368.27 L811.50,368.27 L812.00,368.26 L812.50,368.25 L813.00,368.24 L813.50,368.23 L814.00,368.22 L814.50,368.22 L815.00,368.21 L815.50,368.20 L815.60,368.20" stroke="#ff0000" stroke-width="1.45"/>
<path d="M100.50,404.5 L124.00,404.5 M134.20,404.5 L137.70,404.5 M147.30,404.5 L170.80,404.5 M181.00,404.5 L184.50,404.5 M194.10,404.5 L217.60,404.5 M227.80,404.5 L231.30,404.5 M240.90,404.5 L264.40,404.5 M274.60,404.5 L278.10,404.5 M287.70,404.5 L311.20,404.5 M321.40,404.5 L324.90,404.5 M334.50,404.5 L358.00,404.5 M368.20,404.5 L371.70,404.5 M381.30,404.5 L404.80,404.5 M415.00,404.5 L418.50,404.5 M428.10,404.5 L451.60,404.5 M461.80,404.5 L465.30,404.5 M474.90,404.5 L498.40,404.5 M508.60,404.5 L512.10,404.5 M521.70,404.5 L545.20,404.5 M566.90,404.5 L590.40,404.5 M600.40,404.5 L603.90,404.5 M613.90,404.5 L637.00,404.5 M647.30,404.5 L650.50,404.5 M661.00,404.5 L683.70,404.5 M694.20,404.5 L697.00,404.5" stroke="#12127a" stroke-width="1"/>
<path d="M100.50,405.5 L124.00,405.5 M134.20,405.5 L137.70,405.5 M147.30,405.5 L170.80,405.5 M181.00,405.5 L184.50,405.5 M194.10,405.5 L217.60,405.5 M227.80,405.5 L231.30,405.5 M240.90,405.5 L264.40,405.5 M274.60,405.5 L278.10,405.5 M287.70,405.5 L311.20,405.5 M321.40,405.5 L324.90,405.5 M334.50,405.5 L358.00,405.5 M368.20,405.5 L371.70,405.5 M381.30,405.5 L404.80,405.5 M415.00,405.5 L418.50,405.5 M428.10,405.5 L451.60,405.5 M461.80,405.5 L465.30,405.5 M474.90,405.5 L498.40,405.5 M508.60,405.5 L512.10,405.5 M521.70,405.5 L545.20,405.5 M566.90,405.5 L590.40,405.5 M600.40,405.5 L603.90,405.5 M613.90,405.5 L637.00,405.5 M647.30,405.5 L650.50,405.5 M661.00,405.5 L683.70,405.5 M694.20,405.5 L697.00,405.5" stroke="#a88cff" stroke-width="1"/>
<path d="M702.30,404.90 L702.80,403.26 L703.30,402.25 L703.80,401.48 L704.30,400.87 L704.80,400.29 L705.30,399.73 L705.80,399.20 L706.30,398.74 L706.80,398.35 L707.30,397.99 L707.80,397.65 L708.30,397.32 L708.80,397.01 L709.30,396.73 L709.80,396.47 L710.30,396.24 L710.80,396.04 L711.30,395.83 L711.80,395.64 L712.30,395.44 L712.80,395.25 L713.30,395.07 L713.80,394.89 L714.30,394.72 L714.80,394.56 L715.30,394.41 L715.80,394.25 L716.30,394.09 L716.80,393.93 L717.30,393.78 L717.80,393.62 L718.30,393.47 L718.80,393.33 L719.30,393.19 L719.80,393.05 L720.30,392.93 L720.80,392.81 L721.30,392.71 L721.80,392.62 L721.90,392.60 M731.30,391.15 L731.80,391.07 L732.30,391.00 L732.80,390.93 L733.30,390.86 L733.80,390.78 L734.30,390.71 L734.80,390.64 M745.00,389.20 L745.50,389.13 L746.00,389.07 L746.50,389.01 L747.00,388.94 L747.50,388.88 L748.00,388.82 L748.50,388.76 L749.00,388.71 L749.50,388.65 L750.00,388.59 L750.50,388.54 L751.00,388.48 L751.50,388.43 L752.00,388.38 L752.50,388.33 L753.00,388.28 L753.50,388.23 L754.00,388.18 L754.50,388.14 L755.00,388.09 L755.50,388.04 L756.00,388.00 L756.50,387.96 L757.00,387.91 L757.50,387.87 L758.00,387.83 L758.50,387.78 L759.00,387.74 L759.50,387.70 L760.00,387.66 L760.50,387.62 L761.00,387.57 L761.50,387.53 L762.00,387.49 L762.50,387.45 L763.00,387.41 L763.50,387.37 L764.00,387.33 L764.50,387.29 L765.00,387.25 L765.50,387.21 L766.00,387.17 L766.50,387.13 L767.00,387.09 L767.50,387.05 L768.00,387.01 L768.10,387.00 M777.80,386.24 L778.30,386.21 L778.80,386.18 L779.30,386.14 L779.80,386.11 L780.30,386.08 L780.80,386.05 L781.30,386.03 L781.40,386.02 M791.30,385.60 L791.80,385.58 L792.30,385.55 L792.80,385.52 L793.30,385.50 L793.80,385.47 L794.30,385.45 L794.80,385.42 L795.30,385.39 L795.80,385.37 L796.30,385.34 L796.80,385.31 L797.30,385.29 L797.80,385.26 L798.30,385.24 L798.80,385.21 L799.30,385.18 L799.80,385.16 L800.30,385.13 L800.80,385.11 L801.30,385.08 L801.80,385.06 L802.30,385.03 L802.80,385.01 L803.30,384.99 L803.80,384.96 L804.30,384.94 L804.80,384.92 L805.30,384.90 L805.80,384.87 L806.30,384.85 L806.80,384.83 L807.30,384.81 L807.80,384.79 L808.30,384.77 L808.80,384.75 L809.30,384.73 L809.80,384.71 L810.30,384.69 L810.80,384.67 L811.30,384.65 L811.80,384.63 L812.30,384.61 L812.80,384.59 L813.30,384.57 L813.80,384.56 L814.30,384.54 L814.80,384.52 L815.30,384.50 L815.40,384.50" stroke="#0000ff" stroke-width="1.5"/>
</g>
<g class="ser" font-size="20" fill="#000">
<text x="86.60" y="428.4" text-anchor="middle">0</text>
<text x="232.42" y="428.4" text-anchor="middle">50</text>
<text x="378.24" y="428.4" text-anchor="middle">100</text>
<text x="524.06" y="428.4" text-anchor="middle">150</text>
<text x="669.88" y="428.4" text-anchor="middle">200</text>
<text x="815.70" y="428.4" text-anchor="middle">250</text>
<text x="81.3" y="410.80" text-anchor="end">0.00</text>
<text x="81.3" y="336.50" text-anchor="end">0.05</text>
<text x="81.3" y="262.20" text-anchor="end">0.10</text>
<text x="81.3" y="187.90" text-anchor="end">0.15</text>
<text x="81.3" y="113.60" text-anchor="end">0.20</text>
<text x="81.3" y="39.30" text-anchor="end">0.25</text>
</g>
<g class="ser" fill="#000">
<text x="189.6" y="98.9" font-size="26">uu</text>
<text x="191.3" y="299.2" font-size="22.2">dd</text>
<text x="185.6" y="188" font-size="24">l</text>
<text x="197.85" y="181.4" font-size="16.4" text-anchor="middle">+</text>
<text x="203.4" y="188" font-size="24">l</text>
<text x="214.5" y="181.5" font-size="16.4" text-anchor="middle">&#8722;</text>
<text x="424.2" y="144.3" font-size="26.6" font-style="italic">&#957;&#957;</text>
<text x="593.3" y="380.6" font-size="25.5">ww</text>
<text x="687.4" y="396.4" font-size="20.3">Zh</text>
</g>
<text transform="translate(31.3,372.9) rotate(-90)" class="ser" font-size="39.85" fill="#000">Branching Fraction</text>
<text x="351.2" y="467" class="ser" font-size="40.6" fill="#000">M</text>
<text transform="translate(396.9,472.8) scale(1.17,1.02)" class="ser" font-style="italic" font-size="26.6" fill="#000">Z</text>
<text x="415.3" y="472.8" class="ser" font-size="26.6" fill="#000">'</text>
<g fill="none" stroke="#000" stroke-linecap="round" stroke-linejoin="round">
<path d="M461.8,441.8 Q455.7,449.6 455.7,457.6 Q455.7,465.6 461.8,473.5" stroke-width="1.4"/>
<path d="M546.3,441.8 Q552.6,449.6 552.6,457.6 Q552.6,465.6 546.3,473.5" stroke-width="1.4"/>
<path d="M488.8,449.6 L488.8,444.3 M488.6,448.4 C486.6,445.6 484.2,444.3 481.0,444.3 C475.0,444.3 471.2,449.0 471.2,455.4 C471.2,461.8 475.0,466.4 481.2,466.4 C484.5,466.4 487.0,465.5 489.2,463.6 L489.2,456.7 M481.0,456.7 L490.6,456.7" stroke-width="1.9"/>
<path d="M495.4,458.1 L512.4,458.1 C512.4,453.2 508.8,450.1 503.9,450.1 C498.8,450.1 495.4,453.5 495.4,458.2 C495.4,462.9 498.8,466.2 504.0,466.2 C507.4,466.2 510.3,465.2 512.5,463.2" stroke-width="1.9"/>
<path d="M517.2,444.5 L524.8,444.5 M532.2,444.5 L539.8,444.5 M520.3,444.5 L528.4,465.7 L536.6,444.5" stroke-width="1.9"/>
</g>
</svg>
</body></html>
